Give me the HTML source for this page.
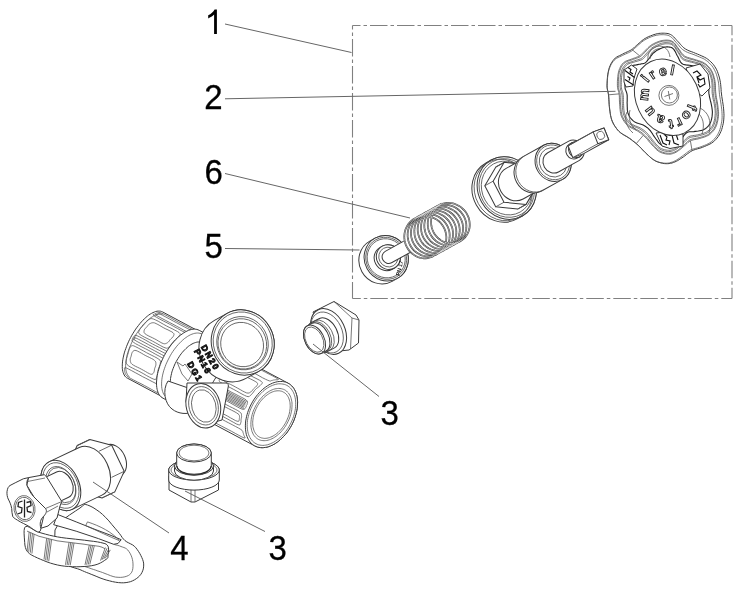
<!DOCTYPE html>
<html><head><meta charset="utf-8"><style>
html,body{margin:0;padding:0;background:#fff;width:747px;height:600px;overflow:hidden}
svg{display:block;will-change:transform;filter:blur(0.3px)}
.lbl{text-anchor:middle;font-family:"Liberation Sans",sans-serif;font-size:35.5px;fill:#000;stroke:#000;stroke-width:0.3}
.ld{stroke:#666;stroke-width:1;fill:none}
.o{fill:#fff;stroke:#3a3a3a;stroke-width:1;stroke-linejoin:round}
.t{fill:none;stroke:#555;stroke-width:0.8}
.wf{fill:#fff;stroke:none}
.lg{fill:none;stroke:#222;stroke-width:1.3}
.o2{fill:none;stroke:#222;stroke-width:1.1}
.rb{fill:#fff;stroke:#222;stroke-width:0.9}
.rb2{fill:none;stroke:#111;stroke-width:1.1}
.sp{fill:none;stroke:#333;stroke-width:1.7}
.sp2{fill:none;stroke:#fff;stroke-width:0.5}
.st{font-family:"Liberation Sans",sans-serif;font-weight:bold;font-size:5.5px;fill:#222}
.bt{font-family:"Liberation Sans",sans-serif;font-weight:bold;font-size:8.5px;letter-spacing:1.6px;fill:#333;stroke:#111;stroke-width:0.9}
.kt{font-family:"Liberation Sans",sans-serif;font-weight:bold;font-size:14px;fill:#fff;stroke:#222;stroke-width:0.9;text-anchor:middle;dominant-baseline:central}
</style></head><body>
<svg width="747" height="600" viewBox="0 0 747 600">
<path d="M352.5,25.5 H732" fill="none" stroke="#808080" stroke-width="1.1" stroke-dasharray="17.5 3 3.5 3" stroke-dashoffset="9.5"/>
<path d="M732,25.5 V298.5" fill="none" stroke="#808080" stroke-width="1.1" stroke-dasharray="17.5 3 3.5 3" stroke-dashoffset="7.8"/>
<path d="M732,298.5 H352.5" fill="none" stroke="#808080" stroke-width="1.1" stroke-dasharray="17.5 3 3.5 3" stroke-dashoffset="6.8"/>
<path d="M352.5,25.5 V298.5" fill="none" stroke="#808080" stroke-width="1.1" stroke-dasharray="17.5 3 3.5 3" stroke-dashoffset="13.4"/>
<g transform="translate(505,189) rotate(-29)">
<path class="o" d="M-4,-32 L2,-32 A28.8,32 0 0 1 2,32 L-4,32 A28.8,32 0 0 1 -4,-32 Z"/><ellipse class="o" cx="2" cy="0" rx="28.8" ry="32"/>
<ellipse class="t" cx="-2" cy="0" rx="28.4" ry="31.5"/>
<ellipse class="t" cx="2" cy="0" rx="27" ry="30"/>
<ellipse class="t" cx="2" cy="0" rx="24.8" ry="27.5"/>
<path class="o" d="M-16.8,11.1 L-16.1,-12.6 L2.7,-23.7 L12.2,-23.7 L30.3,-11.1 L29.6,12.6 L10.8,23.7 L1.3,23.7 Z"/><path class="t" d="M-16.1,-12.6 L-6.6,-12.6"/><path class="t" d="M2.7,-23.7 L12.2,-23.7"/><path class="t" d="M1.3,23.7 L10.8,23.7"/><path class="t" d="M-16.8,11.1 L-7.3,11.1"/><path class="o" d="M-6.6,-12.6 L12.2,-23.7 L30.3,-11.1 L29.6,12.6 L10.8,23.7 L-7.3,11.1 Z"/>
<path class="o" d="M11,-17.5 L31,-17.5 A15.8,17.5 0 0 1 31,17.5 L11,17.5 A15.8,17.5 0 0 1 11,-17.5 Z"/><ellipse class="o" cx="31" cy="0" rx="15.8" ry="17.5"/>
<path class="o" d="M31,-19.5 L55,-19.5 A17.6,19.5 0 0 1 55,19.5 L31,19.5 A17.6,19.5 0 0 1 31,-19.5 Z"/><ellipse class="o" cx="55" cy="0" rx="17.6" ry="19.5"/>
<path class="t" d="M33,-19.5 A17.6,19.5 0 0 0 33,19.5"/>
<ellipse class="t" cx="55" cy="0" rx="16" ry="17.8"/>
<ellipse class="t" cx="55" cy="0" rx="13.5" ry="15"/>
<path class="o" d="M55,-11 L79,-11 A9.9,11 0 0 1 79,11 L55,11 A9.9,11 0 0 1 55,-11 Z"/>
<path class="o" d="M78,-8 L81,-8 A7.2,8 0 0 1 81,8 L78,8 A7.2,8 0 0 1 78,-8 Z"/><ellipse class="o" cx="81" cy="0" rx="7.2" ry="8"/>
<path class="o" d="M74.5,5.4 L76.1,-7.2 L104.8,-7.2 L116.2,-5.4 L114.6,7.2 L85.9,7.2 Z"/><path class="t" d="M76.1,-7.2 L104.8,-7.2"/><path class="t" d="M74.5,5.4 L103.2,5.4"/><path class="o" d="M104.8,-7.2 L116.2,-5.4 L114.6,7.2 L103.2,5.4 Z"/>
<ellipse class="t" cx="109.7" cy="-0.5" rx="3.8" ry="4.2"/>
</g>
<g transform="translate(384,259.5) rotate(-29)">
<path class="o" d="M-3.5,-23 L2.5,-23 A21.8,23 0 0 1 2.5,23 L-3.5,23 A21.8,23 0 0 1 -3.5,-23 Z"/><ellipse class="o" cx="2.5" cy="0" rx="21.8" ry="23"/>
<ellipse class="t" cx="2.5" cy="0" rx="20.2" ry="21.3"/>
<ellipse class="t" cx="2.5" cy="0" rx="18.8" ry="19.8"/>
<path class="o" d="M2.5,-12.5 L5,-12.5 A11.9,12.5 0 0 1 5,12.5 L2.5,12.5 A11.9,12.5 0 0 1 2.5,-12.5 Z"/><ellipse class="o" cx="5" cy="0" rx="11.9" ry="12.5"/>
<ellipse class="t" cx="5" cy="0" rx="9.5" ry="10"/>
<text class="st" transform="translate(5.5,22) rotate(-46.5)">PN 17</text>
<path class="o" d="M5,-6.5 L50,-6.5 A6.2,6.5 0 0 1 50,6.5 L5,6.5 A6.2,6.5 0 0 1 5,-6.5 Z"/>
<path class="wf" d="M45,-21 L77.5,-21 A19.9,21 0 0 1 77.5,21 L45,21 A19.9,21 0 0 1 45,-21 Z"/>
<path class="sp" d="M45,21 L43,20.9 L41,20.5 L39,20 L37.1,19.2 L35.3,18.2 L33.7,17 L32.1,15.6 L30.7,14.1 L29.4,12.3 L28.4,10.5 L27.5,8.5 L26.8,6.5 L26.3,4.4 L26.1,2.2 L26,0 L26.2,-2.2 L26.6,-4.4 L27.2,-6.5 L28,-8.5 L29,-10.5 L30.2,-12.3 L31.6,-14.1 L33.1,-15.6 L34.8,-17 L36.6,-18.2 L38.5,-19.2 L40.6,-20 L42.6,-20.5 L44.8,-20.9 L46.9,-21 L49.1,-20.9 L51.2,-20.5 L53.3,-20 L55.3,-19.2 L57.2,-18.2 L59,-17 L60.7,-15.6 L62.2,-14.1 L63.6,-12.3 L64.8,-10.5 L65.8,-8.5 L66.7,-6.5 L67.3,-4.4 L67.6,-2.2 L67.8,0 L67.8,2.2 L67.5,4.4 L67,6.5 L66.3,8.5 L65.5,10.5 L64.4,12.3 L63.1,14.1 L61.7,15.6 L60.2,17 L58.5,18.2 L56.7,19.2 L54.8,20 L52.8,20.5 L50.8,20.9 L48.8,21 L46.8,20.9 L44.8,20.5 L42.8,20 L41,19.2 L39.2,18.2 L37.5,17 L35.9,15.6 L34.5,14.1 L33.3,12.3 L32.2,10.5 L31.3,8.5 L30.6,6.5 L30.1,4.4 L29.9,2.2 L29.8,0 L30,-2.2 L30.4,-4.4 L31,-6.5 L31.8,-8.5 L32.8,-10.5 L34,-12.3 L35.4,-14.1 L36.9,-15.6 L38.6,-17 L40.4,-18.2 L42.4,-19.2 L44.4,-20 L46.5,-20.5 L48.6,-20.9 L50.7,-21 L52.9,-20.9 L55,-20.5 L57.1,-20 L59.1,-19.2 L61,-18.2 L62.8,-17 L64.5,-15.6 L66.1,-14.1 L67.4,-12.3 L68.6,-10.5 L69.7,-8.5 L70.5,-6.5 L71.1,-4.4 L71.5,-2.2 L71.6,-0 L71.6,2.2 L71.3,4.4 L70.9,6.5 L70.2,8.5 L69.3,10.5 L68.2,12.3 L67,14.1 L65.6,15.6 L64,17 L62.3,18.2 L60.5,19.2 L58.6,20 L56.7,20.5 L54.7,20.9 L52.6,21 L50.6,20.9 L48.6,20.5 L46.7,20 L44.8,19.2 L43,18.2 L41.3,17 L39.7,15.6 L38.3,14.1 L37.1,12.3 L36,10.5 L35.1,8.5 L34.4,6.5 L34,4.4 L33.7,2.2 L33.7,-0 L33.8,-2.2 L34.2,-4.4 L34.8,-6.5 L35.6,-8.5 L36.6,-10.5 L37.8,-12.3 L39.2,-14.1 L40.8,-15.6 L42.5,-17 L44.3,-18.2 L46.2,-19.2 L48.2,-20 L50.3,-20.5 L52.4,-20.9 L54.6,-21 L56.7,-20.9 L58.8,-20.5 L60.9,-20 L62.9,-19.2 L64.9,-18.2 L66.7,-17 L68.4,-15.6 L69.9,-14.1 L71.3,-12.3 L72.5,-10.5 L73.5,-8.5 L74.3,-6.5 L74.9,-4.4 L75.3,-2.2 L75.5,-0 L75.4,2.2 L75.2,4.4 L74.7,6.5 L74,8.5 L73.1,10.5 L72,12.3 L70.8,14.1 L69.4,15.6 L67.8,17 L66.1,18.2 L64.3,19.2 L62.4,20 L60.5,20.5 L58.5,20.9 L56.5,21 L54.4,20.9 L52.5,20.5 L50.5,20 L48.6,19.2 L46.8,18.2 L45.1,17 L43.6,15.6 L42.2,14.1 L40.9,12.3 L39.8,10.5 L38.9,8.5 L38.3,6.5 L37.8,4.4 L37.5,2.2 L37.5,-0 L37.6,-2.2 L38,-4.4 L38.6,-6.5 L39.5,-8.5 L40.5,-10.5 L41.7,-12.3 L43,-14.1 L44.6,-15.6 L46.3,-17 L48.1,-18.2 L50,-19.2 L52,-20 L54.1,-20.5 L56.2,-20.9 L58.4,-21 L60.5,-20.9 L62.7,-20.5 L64.7,-20 L66.8,-19.2 L68.7,-18.2 L70.5,-17 L72.2,-15.6 L73.7,-14.1 L75.1,-12.3 L76.3,-10.5 L77.3,-8.5 L78.1,-6.5 L78.7,-4.4 L79.1,-2.2 L79.3,-0 L79.2,2.2 L79,4.4 L78.5,6.5 L77.8,8.5 L76.9,10.5 L75.9,12.3 L74.6,14.1 L73.2,15.6 L71.6,17 L70,18.2 L68.2,19.2 L66.3,20 L64.3,20.5 L62.3,20.9 L60.3,21 L58.3,20.9 L56.3,20.5 L54.3,20 L52.4,19.2 L50.6,18.2 L49,17 L47.4,15.6 L46,14.1 L44.7,12.3 L43.7,10.5 L42.8,8.5 L42.1,6.5 L41.6,4.4 L41.3,2.2 L41.3,-0 L41.5,-2.2 L41.9,-4.4 L42.5,-6.5 L43.3,-8.5 L44.3,-10.5 L45.5,-12.3 L46.9,-14.1 L48.4,-15.6 L50.1,-17 L51.9,-18.2 L53.8,-19.2 L55.8,-20 L57.9,-20.5 L60.1,-20.9 L62.2,-21 L64.4,-20.9 L66.5,-20.5 L68.6,-20 L70.6,-19.2 L72.5,-18.2 L74.3,-17 L76,-15.6 L77.5,-14.1 L78.9,-12.3 L80.1,-10.5 L81.1,-8.5 L81.9,-6.5 L82.5,-4.4 L82.9,-2.2 L83.1,0 L83.1,2.2 L82.8,4.4 L82.3,6.5 L81.6,8.5 L80.8,10.5 L79.7,12.3 L78.4,14.1 L77,15.6 L75.5,17 L73.8,18.2 L72,19.2 L70.1,20 L68.1,20.5 L66.1,20.9 L64.1,21 L62.1,20.9 L60.1,20.5 L58.1,20 L56.3,19.2 L54.5,18.2 L52.8,17 L51.2,15.6 L49.8,14.1 L48.6,12.3 L47.5,10.5 L46.6,8.5 L45.9,6.5 L45.4,4.4 L45.2,2.2 L45.1,-0 L45.3,-2.2 L45.7,-4.4 L46.3,-6.5 L47.1,-8.5 L48.1,-10.5 L49.3,-12.3 L50.7,-14.1 L52.2,-15.6 L53.9,-17 L55.7,-18.2 L57.7,-19.2 L59.7,-20 L61.8,-20.5 L63.9,-20.9 L66,-21 L68.2,-20.9 L70.3,-20.5 L72.4,-20 L74.4,-19.2 L76.3,-18.2 L78.1,-17 L79.8,-15.6 L81.4,-14.1 L82.7,-12.3 L83.9,-10.5 L85,-8.5 L85.8,-6.5 L86.4,-4.4 L86.8,-2.2 L86.9,-0 L86.9,2.2 L86.6,4.4 L86.2,6.5 L85.5,8.5 L84.6,10.5 L83.5,12.3 L82.3,14.1 L80.8,15.6 L79.3,17 L77.6,18.2 L75.8,19.2 L73.9,20 L72,20.5 L70,20.9 L67.9,21 L65.9,20.9 L63.9,20.5 L62,20 L60.1,19.2 L58.3,18.2 L56.6,17 L55,15.6 L53.6,14.1 L52.4,12.3 L51.3,10.5 L50.4,8.5 L49.7,6.5 L49.3,4.4 L49,2.2 L48.9,-0 L49.1,-2.2 L49.5,-4.4 L50.1,-6.5 L50.9,-8.5 L51.9,-10.5 L53.1,-12.3 L54.5,-14.1 L56.1,-15.6 L57.7,-17 L59.6,-18.2 L61.5,-19.2 L63.5,-20 L65.6,-20.5 L67.7,-20.9 L69.9,-21 L72,-20.9 L74.1,-20.5 L76.2,-20 L78.2,-19.2 L80.1,-18.2 L82,-17 L83.6,-15.6 L85.2,-14.1 L86.6,-12.3 L87.8,-10.5 L88.8,-8.5 L89.6,-6.5 L90.2,-4.4 L90.6,-2.2 L90.8,0 L90.7,2.2 L90.5,4.4 L90,6.5 L89.3,8.5 L88.4,10.5 L87.3,12.3 L86.1,14.1 L84.7,15.6 L83.1,17 L81.4,18.2 L79.6,19.2 L77.7,20 L75.8,20.5 L73.8,20.9 L71.8,21 L69.7,20.9 L67.7,20.5 L65.8,20 L63.9,19.2 L62.1,18.2 L60.4,17 L58.9,15.6 L57.4,14.1 L56.2,12.3 L55.1,10.5 L54.2,8.5 L53.6,6.5 L53.1,4.4 L52.8,2.2 L52.8,-0 L52.9,-2.2 L53.3,-4.4 L53.9,-6.5 L54.8,-8.5 L55.8,-10.5 L57,-12.3 L58.3,-14.1 L59.9,-15.6 L61.6,-17 L63.4,-18.2 L65.3,-19.2 L67.3,-20 L69.4,-20.5 L71.5,-20.9 L73.7,-21 L75.8,-20.9 L78,-20.5 L80,-20 L82,-19.2 L84,-18.2 L85.8,-17 L87.5,-15.6 L89,-14.1 L90.4,-12.3 L91.6,-10.5 L92.6,-8.5 L93.4,-6.5 L94,-4.4 L94.4,-2.2 L94.6,0 L94.5,2.2 L94.3,4.4 L93.8,6.5 L93.1,8.5 L92.2,10.5 L91.2,12.3 L89.9,14.1 L88.5,15.6 L86.9,17 L85.2,18.2 L83.4,19.2 L81.6,20 L79.6,20.5 L77.6,20.9 L75.6,21 L73.6,20.9 L71.6,20.5 L69.6,20 L67.7,19.2 L65.9,18.2 L64.2,17 L62.7,15.6 L61.3,14.1 L60,12.3 L58.9,10.5 L58.1,8.5 L57.4,6.5 L56.9,4.4 L56.6,2.2 L56.6,-0 L56.8,-2.2 L57.2,-4.4 L57.8,-6.5 L58.6,-8.5 L59.6,-10.5 L60.8,-12.3 L62.2,-14.1 L63.7,-15.6 L65.4,-17 L67.2,-18.2 L69.1,-19.2 L71.1,-20 L73.2,-20.5 L75.4,-20.9 L77.5,-21"/>
<path class="sp2" d="M45,21 L43,20.9 L41,20.5 L39,20 L37.1,19.2 L35.3,18.2 L33.7,17 L32.1,15.6 L30.7,14.1 L29.4,12.3 L28.4,10.5 L27.5,8.5 L26.8,6.5 L26.3,4.4 L26.1,2.2 L26,0 L26.2,-2.2 L26.6,-4.4 L27.2,-6.5 L28,-8.5 L29,-10.5 L30.2,-12.3 L31.6,-14.1 L33.1,-15.6 L34.8,-17 L36.6,-18.2 L38.5,-19.2 L40.6,-20 L42.6,-20.5 L44.8,-20.9 L46.9,-21 L49.1,-20.9 L51.2,-20.5 L53.3,-20 L55.3,-19.2 L57.2,-18.2 L59,-17 L60.7,-15.6 L62.2,-14.1 L63.6,-12.3 L64.8,-10.5 L65.8,-8.5 L66.7,-6.5 L67.3,-4.4 L67.6,-2.2 L67.8,0 L67.8,2.2 L67.5,4.4 L67,6.5 L66.3,8.5 L65.5,10.5 L64.4,12.3 L63.1,14.1 L61.7,15.6 L60.2,17 L58.5,18.2 L56.7,19.2 L54.8,20 L52.8,20.5 L50.8,20.9 L48.8,21 L46.8,20.9 L44.8,20.5 L42.8,20 L41,19.2 L39.2,18.2 L37.5,17 L35.9,15.6 L34.5,14.1 L33.3,12.3 L32.2,10.5 L31.3,8.5 L30.6,6.5 L30.1,4.4 L29.9,2.2 L29.8,0 L30,-2.2 L30.4,-4.4 L31,-6.5 L31.8,-8.5 L32.8,-10.5 L34,-12.3 L35.4,-14.1 L36.9,-15.6 L38.6,-17 L40.4,-18.2 L42.4,-19.2 L44.4,-20 L46.5,-20.5 L48.6,-20.9 L50.7,-21 L52.9,-20.9 L55,-20.5 L57.1,-20 L59.1,-19.2 L61,-18.2 L62.8,-17 L64.5,-15.6 L66.1,-14.1 L67.4,-12.3 L68.6,-10.5 L69.7,-8.5 L70.5,-6.5 L71.1,-4.4 L71.5,-2.2 L71.6,-0 L71.6,2.2 L71.3,4.4 L70.9,6.5 L70.2,8.5 L69.3,10.5 L68.2,12.3 L67,14.1 L65.6,15.6 L64,17 L62.3,18.2 L60.5,19.2 L58.6,20 L56.7,20.5 L54.7,20.9 L52.6,21 L50.6,20.9 L48.6,20.5 L46.7,20 L44.8,19.2 L43,18.2 L41.3,17 L39.7,15.6 L38.3,14.1 L37.1,12.3 L36,10.5 L35.1,8.5 L34.4,6.5 L34,4.4 L33.7,2.2 L33.7,-0 L33.8,-2.2 L34.2,-4.4 L34.8,-6.5 L35.6,-8.5 L36.6,-10.5 L37.8,-12.3 L39.2,-14.1 L40.8,-15.6 L42.5,-17 L44.3,-18.2 L46.2,-19.2 L48.2,-20 L50.3,-20.5 L52.4,-20.9 L54.6,-21 L56.7,-20.9 L58.8,-20.5 L60.9,-20 L62.9,-19.2 L64.9,-18.2 L66.7,-17 L68.4,-15.6 L69.9,-14.1 L71.3,-12.3 L72.5,-10.5 L73.5,-8.5 L74.3,-6.5 L74.9,-4.4 L75.3,-2.2 L75.5,-0 L75.4,2.2 L75.2,4.4 L74.7,6.5 L74,8.5 L73.1,10.5 L72,12.3 L70.8,14.1 L69.4,15.6 L67.8,17 L66.1,18.2 L64.3,19.2 L62.4,20 L60.5,20.5 L58.5,20.9 L56.5,21 L54.4,20.9 L52.5,20.5 L50.5,20 L48.6,19.2 L46.8,18.2 L45.1,17 L43.6,15.6 L42.2,14.1 L40.9,12.3 L39.8,10.5 L38.9,8.5 L38.3,6.5 L37.8,4.4 L37.5,2.2 L37.5,-0 L37.6,-2.2 L38,-4.4 L38.6,-6.5 L39.5,-8.5 L40.5,-10.5 L41.7,-12.3 L43,-14.1 L44.6,-15.6 L46.3,-17 L48.1,-18.2 L50,-19.2 L52,-20 L54.1,-20.5 L56.2,-20.9 L58.4,-21 L60.5,-20.9 L62.7,-20.5 L64.7,-20 L66.8,-19.2 L68.7,-18.2 L70.5,-17 L72.2,-15.6 L73.7,-14.1 L75.1,-12.3 L76.3,-10.5 L77.3,-8.5 L78.1,-6.5 L78.7,-4.4 L79.1,-2.2 L79.3,-0 L79.2,2.2 L79,4.4 L78.5,6.5 L77.8,8.5 L76.9,10.5 L75.9,12.3 L74.6,14.1 L73.2,15.6 L71.6,17 L70,18.2 L68.2,19.2 L66.3,20 L64.3,20.5 L62.3,20.9 L60.3,21 L58.3,20.9 L56.3,20.5 L54.3,20 L52.4,19.2 L50.6,18.2 L49,17 L47.4,15.6 L46,14.1 L44.7,12.3 L43.7,10.5 L42.8,8.5 L42.1,6.5 L41.6,4.4 L41.3,2.2 L41.3,-0 L41.5,-2.2 L41.9,-4.4 L42.5,-6.5 L43.3,-8.5 L44.3,-10.5 L45.5,-12.3 L46.9,-14.1 L48.4,-15.6 L50.1,-17 L51.9,-18.2 L53.8,-19.2 L55.8,-20 L57.9,-20.5 L60.1,-20.9 L62.2,-21 L64.4,-20.9 L66.5,-20.5 L68.6,-20 L70.6,-19.2 L72.5,-18.2 L74.3,-17 L76,-15.6 L77.5,-14.1 L78.9,-12.3 L80.1,-10.5 L81.1,-8.5 L81.9,-6.5 L82.5,-4.4 L82.9,-2.2 L83.1,0 L83.1,2.2 L82.8,4.4 L82.3,6.5 L81.6,8.5 L80.8,10.5 L79.7,12.3 L78.4,14.1 L77,15.6 L75.5,17 L73.8,18.2 L72,19.2 L70.1,20 L68.1,20.5 L66.1,20.9 L64.1,21 L62.1,20.9 L60.1,20.5 L58.1,20 L56.3,19.2 L54.5,18.2 L52.8,17 L51.2,15.6 L49.8,14.1 L48.6,12.3 L47.5,10.5 L46.6,8.5 L45.9,6.5 L45.4,4.4 L45.2,2.2 L45.1,-0 L45.3,-2.2 L45.7,-4.4 L46.3,-6.5 L47.1,-8.5 L48.1,-10.5 L49.3,-12.3 L50.7,-14.1 L52.2,-15.6 L53.9,-17 L55.7,-18.2 L57.7,-19.2 L59.7,-20 L61.8,-20.5 L63.9,-20.9 L66,-21 L68.2,-20.9 L70.3,-20.5 L72.4,-20 L74.4,-19.2 L76.3,-18.2 L78.1,-17 L79.8,-15.6 L81.4,-14.1 L82.7,-12.3 L83.9,-10.5 L85,-8.5 L85.8,-6.5 L86.4,-4.4 L86.8,-2.2 L86.9,-0 L86.9,2.2 L86.6,4.4 L86.2,6.5 L85.5,8.5 L84.6,10.5 L83.5,12.3 L82.3,14.1 L80.8,15.6 L79.3,17 L77.6,18.2 L75.8,19.2 L73.9,20 L72,20.5 L70,20.9 L67.9,21 L65.9,20.9 L63.9,20.5 L62,20 L60.1,19.2 L58.3,18.2 L56.6,17 L55,15.6 L53.6,14.1 L52.4,12.3 L51.3,10.5 L50.4,8.5 L49.7,6.5 L49.3,4.4 L49,2.2 L48.9,-0 L49.1,-2.2 L49.5,-4.4 L50.1,-6.5 L50.9,-8.5 L51.9,-10.5 L53.1,-12.3 L54.5,-14.1 L56.1,-15.6 L57.7,-17 L59.6,-18.2 L61.5,-19.2 L63.5,-20 L65.6,-20.5 L67.7,-20.9 L69.9,-21 L72,-20.9 L74.1,-20.5 L76.2,-20 L78.2,-19.2 L80.1,-18.2 L82,-17 L83.6,-15.6 L85.2,-14.1 L86.6,-12.3 L87.8,-10.5 L88.8,-8.5 L89.6,-6.5 L90.2,-4.4 L90.6,-2.2 L90.8,0 L90.7,2.2 L90.5,4.4 L90,6.5 L89.3,8.5 L88.4,10.5 L87.3,12.3 L86.1,14.1 L84.7,15.6 L83.1,17 L81.4,18.2 L79.6,19.2 L77.7,20 L75.8,20.5 L73.8,20.9 L71.8,21 L69.7,20.9 L67.7,20.5 L65.8,20 L63.9,19.2 L62.1,18.2 L60.4,17 L58.9,15.6 L57.4,14.1 L56.2,12.3 L55.1,10.5 L54.2,8.5 L53.6,6.5 L53.1,4.4 L52.8,2.2 L52.8,-0 L52.9,-2.2 L53.3,-4.4 L53.9,-6.5 L54.8,-8.5 L55.8,-10.5 L57,-12.3 L58.3,-14.1 L59.9,-15.6 L61.6,-17 L63.4,-18.2 L65.3,-19.2 L67.3,-20 L69.4,-20.5 L71.5,-20.9 L73.7,-21 L75.8,-20.9 L78,-20.5 L80,-20 L82,-19.2 L84,-18.2 L85.8,-17 L87.5,-15.6 L89,-14.1 L90.4,-12.3 L91.6,-10.5 L92.6,-8.5 L93.4,-6.5 L94,-4.4 L94.4,-2.2 L94.6,0 L94.5,2.2 L94.3,4.4 L93.8,6.5 L93.1,8.5 L92.2,10.5 L91.2,12.3 L89.9,14.1 L88.5,15.6 L86.9,17 L85.2,18.2 L83.4,19.2 L81.6,20 L79.6,20.5 L77.6,20.9 L75.6,21 L73.6,20.9 L71.6,20.5 L69.6,20 L67.7,19.2 L65.9,18.2 L64.2,17 L62.7,15.6 L61.3,14.1 L60,12.3 L58.9,10.5 L58.1,8.5 L57.4,6.5 L56.9,4.4 L56.6,2.2 L56.6,-0 L56.8,-2.2 L57.2,-4.4 L57.8,-6.5 L58.6,-8.5 L59.6,-10.5 L60.8,-12.3 L62.2,-14.1 L63.7,-15.6 L65.4,-17 L67.2,-18.2 L69.1,-19.2 L71.1,-20 L73.2,-20.5 L75.4,-20.9 L77.5,-21"/>
</g>
<path class="o" d="M607,85.4 L607.1,83.1 L607.2,80.5 L607.4,77.7 L607.7,74.8 L608.2,72.2 L608.7,69.8 L609.3,67.7 L610.1,65.7 L610.9,63.9 L611.9,62.2 L612.9,60.7 L614,59.3 L615.2,58.1 L616.6,57.1 L618.1,56.3 L619.6,55.6 L621.1,54.9 L622.6,54.1 L624.1,53.3 L625.6,52.6 L627.2,51.9 L628.7,51.2 L630.1,50.5 L631.3,49.8 L632.3,49.1 L633.2,48.4 L633.9,47.8 L634.6,47.1 L635.5,46.3 L636.5,45.4 L637.7,44.4 L639.1,43.2 L640.5,41.9 L642,40.6 L643.6,39.4 L645.2,38.4 L646.9,37.5 L648.6,36.6 L650.5,35.9 L652.3,35.2 L654,34.6 L655.7,34.1 L657.3,33.7 L658.8,33.4 L660.3,33.3 L661.7,33.2 L663.1,33.2 L664.4,33.2 L665.7,33.3 L666.9,33.4 L668,33.6 L669.1,33.9 L670.3,34.4 L671.4,35 L672.6,35.9 L673.7,36.9 L674.8,38.1 L676,39.4 L677.1,40.7 L678.3,41.9 L679.4,43.1 L680.4,44.3 L681.5,45.5 L682.6,46.7 L683.8,47.8 L685.3,48.9 L687.1,49.9 L689,50.8 L691.2,51.6 L693.4,52.4 L695.5,53.3 L697.5,54.1 L699.4,54.9 L701.2,55.7 L703,56.5 L704.7,57.3 L706.3,58.2 L707.9,59.3 L709.4,60.5 L710.8,61.8 L712.2,63.2 L713.5,64.7 L714.6,66.3 L715.7,68 L716.7,69.8 L717.5,71.7 L718.2,73.8 L718.9,75.9 L719.5,78 L720,80.2 L720.4,82.4 L720.7,84.6 L720.9,86.9 L721.1,89.3 L721.2,91.6 L721.5,94 L721.8,96.5 L722.2,99 L722.6,101.5 L723,104.1 L723.4,106.6 L723.6,108.9 L723.8,111.1 L723.9,113.2 L724,115.2 L723.9,117.1 L723.8,119.1 L723.6,121.1 L723.3,123.2 L722.8,125.3 L722.3,127.4 L721.7,129.5 L720.9,131.5 L720.1,133.3 L719.2,135 L718.2,136.6 L717,138.1 L715.8,139.5 L714.5,140.8 L713.1,142 L711.6,143.1 L709.9,144.1 L708.1,144.9 L706.3,145.7 L704.5,146.5 L702.7,147.2 L700.9,147.9 L699.1,148.4 L697.3,148.9 L695.6,149.4 L693.8,150 L692.2,150.7 L690.6,151.6 L689.2,152.6 L687.7,153.6 L686.3,154.7 L684.9,155.8 L683.5,156.8 L682,157.8 L680.6,158.7 L679.1,159.7 L677.7,160.6 L676.2,161.3 L674.8,162 L673.4,162.5 L672,163 L670.6,163.3 L669.1,163.6 L667.6,163.7 L666.1,163.7 L664.4,163.6 L662.7,163.3 L660.9,162.9 L659.1,162.4 L657.4,161.8 L655.7,161.1 L654.2,160.2 L652.7,159.2 L651.2,158 L649.8,156.8 L648.4,155.5 L647,154.2 L645.5,152.8 L644.1,151.4 L642.6,149.9 L641.2,148.3 L639.8,146.9 L638.3,145.5 L636.9,144.2 L635.5,143 L634.1,141.9 L632.6,140.8 L631.2,139.6 L629.6,138.5 L627.9,137.4 L626.1,136.3 L624.2,135.2 L622.4,134.1 L620.7,132.9 L619.1,131.5 L617.7,130 L616.4,128.3 L615.2,126.6 L614,124.8 L613.1,123 L612.2,121.1 L611.5,119.2 L611,117.3 L610.5,115.3 L610.2,113.2 L609.9,111.1 L609.6,109 L609.3,106.7 L609.1,104.3 L609,101.8 L608.8,99.4 L608.7,97.1 L608.5,95 L608.2,93.2 L607.9,91.7 L607.6,90.3 L607.3,88.9 L607.1,87.3 Z"/>
<path class="t" d="M607.1,86.1 L607.2,83.8 L607.3,81.2 L607.5,78.5 L607.8,75.7 L608.2,73.1 L608.7,70.7 L609.3,68.7 L610.1,66.7 L610.9,64.9 L611.8,63.3 L612.8,61.8 L614,60.4 L615.2,59.3 L616.6,58.3 L618,57.5 L619.6,56.8 L621.1,56.1 L622.6,55.4 L624,54.7 L625.6,54 L627.1,53.3 L628.6,52.7 L629.9,52 L631.2,51.3 L632.2,50.6 L633,50 L633.7,49.3 L634.4,48.6 L635.2,47.9 L636.2,47 L637.4,45.9 L638.7,44.7 L640.1,43.5 L641.6,42.2 L643.1,41 L644.7,40 L646.3,39.1 L648.1,38.2 L649.8,37.4 L651.6,36.7 L653.4,36.1 L655,35.6 L656.5,35.3 L658,35 L659.5,34.8 L660.9,34.7 L662.2,34.7 L663.6,34.7 L664.8,34.8 L666,34.9 L667.1,35.1 L668.2,35.4 L669.3,35.9 L670.4,36.5 L671.6,37.4 L672.7,38.5 L673.8,39.7 L674.9,41 L676.1,42.3 L677.2,43.5 L678.2,44.7 L679.2,45.9 L680.2,47.2 L681.3,48.4 L682.5,49.5 L684,50.5 L685.7,51.5 L687.6,52.4 L689.7,53.2 L691.9,53.9 L694,54.7 L696,55.5 L697.8,56.3 L699.6,57 L701.4,57.8 L703.1,58.5 L704.7,59.4 L706.3,60.5 L707.8,61.6 L709.2,62.9 L710.5,64.3 L711.8,65.7 L713,67.3 L714,69 L714.9,70.8 L715.8,72.7 L716.5,74.7 L717.1,76.7 L717.7,78.9 L718.2,81 L718.6,83.2 L718.8,85.4 L719,87.6 L719.1,89.9 L719.3,92.2 L719.5,94.6 L719.9,97 L720.3,99.5 L720.7,102 L721.1,104.5 L721.4,106.9 L721.7,109.2 L721.9,111.3 L722,113.4 L722.1,115.4 L722.1,117.3 L722,119.2 L721.8,121.2 L721.4,123.2 L721,125.3 L720.5,127.4 L719.9,129.5 L719.2,131.4 L718.4,133.2 L717.5,134.9 L716.4,136.5 L715.3,137.9 L714.1,139.3 L712.8,140.6 L711.4,141.7 L709.9,142.8 L708.2,143.7 L706.5,144.6 L704.7,145.3 L702.9,146 L701.1,146.7 L699.4,147.3 L697.6,147.8 L695.8,148.3 L694.1,148.8 L692.4,149.3 L690.7,150 L689.2,150.9 L687.8,151.9 L686.4,153 L685,154.1 L683.7,155.1 L682.3,156.1 L680.9,157.1 L679.5,158.1 L678,159.1 L676.6,160 L675.2,160.8 L673.8,161.4 L672.4,162 L671,162.4 L669.6,162.8 L668.2,163.1 L666.7,163.2 L665.2,163.2 L663.6,163.1 L661.9,162.8 L660.1,162.5 L658.3,162 L656.6,161.4 L655,160.6 L653.5,159.7 L652,158.7 L650.6,157.5 L649.2,156.3 L647.9,155 L646.5,153.7 L645.1,152.3 L643.6,150.8 L642.2,149.3 L640.8,147.8 L639.4,146.4 L638,145 L636.6,143.8 L635.2,142.6 L633.8,141.5 L632.4,140.4 L631,139.3 L629.5,138.2 L627.8,137.1 L626,136 L624.1,135 L622.3,133.9 L620.6,132.7 L619,131.4 L617.6,129.9 L616.3,128.3 L615.1,126.6 L614,124.9 L613,123.1 L612.2,121.2 L611.5,119.3 L611,117.4 L610.6,115.5 L610.3,113.5 L610,111.4 L609.7,109.3 L609.5,107.1 L609.3,104.7 L609.1,102.3 L609,99.9 L608.9,97.6 L608.7,95.5 L608.4,93.8 L608.1,92.3 L607.7,90.9 L607.4,89.5 L607.2,88 Z"/>
<path class="t" d="M617.4,85.7 L617.4,83.7 L617.4,81.4 L617.6,79 L617.8,76.5 L618.1,74.1 L618.5,72.1 L619,70.2 L619.7,68.5 L620.4,66.9 L621.2,65.4 L622.2,64.1 L623.2,63 L624.4,62 L625.7,61.2 L627.1,60.7 L628.5,60.1 L630,59.7 L631.4,59.1 L632.7,58.6 L634.2,58.1 L635.6,57.6 L636.9,57.1 L638.2,56.6 L639.2,56.1 L640.1,55.5 L640.8,54.9 L641.4,54.3 L642,53.7 L642.7,53 L643.5,52.2 L644.5,51.2 L645.6,50.1 L646.8,48.9 L648,47.7 L649.3,46.5 L650.6,45.5 L652,44.6 L653.5,43.7 L655,43 L656.6,42.3 L658.1,41.7 L659.5,41.2 L660.9,40.8 L662.2,40.5 L663.5,40.3 L664.7,40.2 L665.9,40.1 L667.1,40.1 L668.2,40.2 L669.2,40.3 L670.2,40.5 L671.2,40.8 L672.2,41.3 L673.1,41.9 L674.1,42.8 L675.1,43.9 L676.1,45.2 L677,46.5 L677.9,47.8 L678.9,49.1 L679.8,50.2 L680.6,51.5 L681.4,52.7 L682.3,53.8 L683.3,54.9 L684.5,55.9 L685.9,56.7 L687.6,57.4 L689.5,57.9 L691.4,58.5 L693.3,59 L695,59.6 L696.7,60.1 L698.4,60.6 L700,61.2 L701.6,61.7 L703.2,62.4 L704.6,63.3 L706,64.2 L707.3,65.3 L708.5,66.5 L709.6,67.7 L710.7,69.1 L711.6,70.6 L712.4,72.2 L713.1,73.9 L713.7,75.7 L714.2,77.5 L714.7,79.4 L715,81.3 L715.3,83.2 L715.4,85.2 L715.5,87.2 L715.5,89.2 L715.6,91.2 L715.8,93.2 L716.1,95.3 L716.4,97.5 L716.8,99.7 L717.3,101.9 L717.6,104 L717.9,106 L718.1,107.9 L718.3,109.7 L718.5,111.5 L718.6,113.2 L718.5,114.9 L718.4,116.7 L718.2,118.5 L717.8,120.4 L717.4,122.2 L716.9,124.1 L716.3,125.8 L715.6,127.4 L714.8,128.9 L713.9,130.2 L712.8,131.5 L711.7,132.7 L710.5,133.8 L709.3,134.8 L707.8,135.6 L706.3,136.3 L704.6,137 L703,137.5 L701.3,138 L699.7,138.5 L698.1,138.9 L696.5,139.3 L694.9,139.5 L693.3,139.9 L691.8,140.3 L690.4,140.8 L689.1,141.6 L687.9,142.5 L686.8,143.6 L685.7,144.7 L684.5,145.7 L683.4,146.7 L682.2,147.7 L681,148.7 L679.8,149.7 L678.5,150.6 L677.3,151.5 L676.1,152.2 L674.9,152.8 L673.6,153.3 L672.4,153.7 L671.2,154 L669.9,154.2 L668.5,154.2 L667.1,154.1 L665.6,153.9 L664,153.5 L662.4,153.1 L660.9,152.5 L659.4,151.8 L658.1,150.9 L656.8,149.9 L655.6,148.8 L654.5,147.5 L653.3,146.3 L652.1,145 L650.9,143.7 L649.7,142.3 L648.5,140.9 L647.4,139.4 L646.2,138.1 L645,136.9 L643.8,135.8 L642.6,134.7 L641.4,133.8 L640.2,132.8 L638.9,131.9 L637.5,131 L636,130.2 L634.4,129.4 L632.6,128.6 L630.9,127.7 L629.3,126.8 L627.8,125.7 L626.5,124.4 L625.3,123 L624.2,121.5 L623.2,120 L622.4,118.4 L621.6,116.8 L621,115.1 L620.6,113.4 L620.3,111.6 L620.1,109.8 L619.9,108 L619.8,106.1 L619.6,104.2 L619.5,102.1 L619.4,99.9 L619.4,97.9 L619.3,95.9 L619.1,94.1 L618.8,92.5 L618.5,91.2 L618.1,90 L617.7,88.8 L617.5,87.4 Z"/>
<path class="t" d="M618.3,85.9 L618.3,83.9 L618.4,81.6 L618.5,79.2 L618.7,76.8 L618.9,74.4 L619.3,72.4 L619.9,70.6 L620.5,68.9 L621.2,67.3 L622,65.9 L623,64.6 L624,63.4 L625.1,62.5 L626.5,61.8 L627.9,61.2 L629.3,60.7 L630.8,60.3 L632.1,59.8 L633.5,59.3 L634.9,58.8 L636.3,58.3 L637.6,57.9 L638.9,57.4 L639.9,56.9 L640.8,56.3 L641.5,55.8 L642.1,55.2 L642.6,54.5 L643.3,53.8 L644.1,53 L645.1,52.1 L646.1,50.9 L647.3,49.7 L648.5,48.5 L649.7,47.3 L651,46.3 L652.4,45.4 L653.8,44.6 L655.3,43.8 L656.8,43.1 L658.3,42.5 L659.7,42 L661.1,41.6 L662.4,41.3 L663.6,41.1 L664.8,41 L666,40.9 L667.2,41 L668.2,41 L669.3,41.1 L670.3,41.3 L671.2,41.6 L672.2,42.1 L673.2,42.7 L674.1,43.6 L675.1,44.7 L676,46 L676.9,47.4 L677.9,48.7 L678.8,49.9 L679.6,51.1 L680.4,52.4 L681.2,53.6 L682.1,54.8 L683,55.8 L684.2,56.8 L685.6,57.6 L687.3,58.2 L689.1,58.8 L691,59.3 L692.8,59.7 L694.6,60.3 L696.3,60.8 L697.9,61.3 L699.5,61.8 L701.1,62.3 L702.6,63 L704.1,63.8 L705.4,64.7 L706.7,65.8 L707.9,66.9 L709.1,68.2 L710.1,69.5 L711,70.9 L711.8,72.5 L712.5,74.2 L713.1,75.9 L713.6,77.8 L714,79.6 L714.3,81.5 L714.6,83.4 L714.7,85.3 L714.7,87.3 L714.7,89.3 L714.8,91.2 L715,93.2 L715.2,95.3 L715.6,97.4 L716,99.6 L716.5,101.7 L716.8,103.8 L717.1,105.8 L717.4,107.7 L717.6,109.4 L717.7,111.2 L717.8,112.9 L717.8,114.6 L717.7,116.3 L717.5,118.1 L717.1,119.9 L716.7,121.8 L716.2,123.6 L715.6,125.3 L714.9,126.9 L714.1,128.3 L713.2,129.7 L712.2,130.9 L711.1,132.1 L710,133.1 L708.7,134.1 L707.3,134.9 L705.7,135.6 L704.1,136.2 L702.4,136.7 L700.8,137.2 L699.2,137.6 L697.6,138 L696,138.3 L694.4,138.6 L692.9,138.9 L691.4,139.3 L690,139.8 L688.8,140.6 L687.6,141.5 L686.5,142.6 L685.4,143.6 L684.3,144.7 L683.2,145.7 L682,146.7 L680.8,147.7 L679.7,148.7 L678.5,149.7 L677.3,150.6 L676.1,151.3 L674.8,151.9 L673.7,152.4 L672.5,152.8 L671.2,153.1 L670,153.3 L668.6,153.3 L667.2,153.2 L665.7,153 L664.1,152.7 L662.6,152.2 L661.1,151.6 L659.7,150.9 L658.4,150.1 L657.1,149 L655.9,147.9 L654.8,146.7 L653.6,145.4 L652.5,144.1 L651.3,142.8 L650.1,141.4 L649,140 L647.9,138.6 L646.7,137.2 L645.6,136 L644.4,134.9 L643.2,133.9 L642.1,133 L640.9,132.1 L639.6,131.2 L638.2,130.3 L636.7,129.5 L635.1,128.7 L633.3,127.9 L631.6,127.1 L630,126.2 L628.6,125.2 L627.3,123.9 L626.1,122.6 L625,121.1 L624,119.6 L623.2,118 L622.4,116.4 L621.9,114.8 L621.5,113.1 L621.2,111.3 L621,109.6 L620.8,107.8 L620.7,105.9 L620.5,104 L620.4,101.9 L620.4,99.8 L620.3,97.8 L620.2,95.8 L620.1,94.1 L619.8,92.6 L619.4,91.3 L619,90.1 L618.7,88.9 L618.4,87.5 Z"/>
<path class="t" d="M620.1,86.2 L620.1,84.3 L620.1,82.1 L620.2,79.7 L620.3,77.4 L620.6,75.1 L621,73.1 L621.4,71.3 L622,69.7 L622.8,68.1 L623.6,66.8 L624.5,65.5 L625.5,64.4 L626.6,63.5 L627.9,62.9 L629.3,62.4 L630.8,62 L632.2,61.6 L633.6,61.1 L634.9,60.7 L636.3,60.2 L637.7,59.8 L639,59.4 L640.2,59 L641.2,58.5 L642.1,58 L642.7,57.4 L643.3,56.9 L643.8,56.3 L644.4,55.6 L645.2,54.8 L646.1,53.8 L647.1,52.7 L648.2,51.5 L649.3,50.3 L650.5,49.1 L651.7,48.1 L653,47.2 L654.4,46.4 L655.9,45.6 L657.3,44.9 L658.8,44.3 L660.1,43.7 L661.4,43.3 L662.6,43 L663.9,42.8 L665,42.7 L666.2,42.6 L667.3,42.6 L668.3,42.7 L669.3,42.8 L670.3,43 L671.2,43.3 L672.2,43.7 L673.1,44.4 L674,45.3 L674.9,46.5 L675.8,47.8 L676.7,49.1 L677.6,50.5 L678.4,51.8 L679.3,53 L680,54.2 L680.7,55.4 L681.5,56.6 L682.4,57.7 L683.5,58.6 L684.9,59.4 L686.5,59.9 L688.2,60.4 L690.1,60.9 L691.9,61.3 L693.6,61.7 L695.2,62.2 L696.9,62.6 L698.5,63 L700,63.5 L701.5,64.1 L702.9,64.9 L704.3,65.8 L705.5,66.7 L706.7,67.8 L707.8,69 L708.9,70.3 L709.7,71.7 L710.5,73.2 L711.1,74.9 L711.7,76.6 L712.1,78.4 L712.5,80.2 L712.8,82 L713,83.8 L713.1,85.7 L713.1,87.6 L713.1,89.5 L713.1,91.4 L713.3,93.3 L713.5,95.3 L713.9,97.3 L714.3,99.4 L714.8,101.5 L715.2,103.5 L715.5,105.4 L715.7,107.2 L716,108.9 L716.1,110.6 L716.2,112.3 L716.3,113.9 L716.2,115.6 L715.9,117.4 L715.7,119.1 L715.3,120.9 L714.8,122.7 L714.2,124.3 L713.6,125.9 L712.8,127.3 L711.9,128.6 L710.9,129.8 L709.9,130.9 L708.7,131.9 L707.4,132.8 L706,133.6 L704.5,134.2 L702.9,134.7 L701.2,135.2 L699.6,135.6 L698.1,136 L696.5,136.3 L695,136.6 L693.4,136.8 L691.9,137 L690.5,137.4 L689.2,137.9 L688,138.6 L686.9,139.6 L685.8,140.6 L684.8,141.7 L683.8,142.8 L682.7,143.8 L681.6,144.8 L680.5,145.8 L679.3,146.8 L678.2,147.8 L677.1,148.7 L675.9,149.4 L674.7,150.1 L673.6,150.6 L672.4,151 L671.2,151.3 L670,151.5 L668.7,151.6 L667.3,151.5 L665.9,151.3 L664.4,151 L662.8,150.5 L661.4,149.9 L660,149.2 L658.8,148.4 L657.6,147.3 L656.4,146.2 L655.3,144.9 L654.2,143.7 L653.1,142.4 L652,141.1 L650.9,139.7 L649.8,138.3 L648.8,136.9 L647.7,135.5 L646.6,134.4 L645.5,133.3 L644.4,132.3 L643.2,131.4 L642.1,130.6 L640.8,129.7 L639.5,128.9 L638.1,128.1 L636.4,127.4 L634.7,126.8 L633,126 L631.4,125.2 L630,124.2 L628.7,123 L627.5,121.7 L626.5,120.3 L625.5,118.8 L624.7,117.3 L624,115.7 L623.4,114.1 L623.1,112.5 L622.8,110.8 L622.6,109.1 L622.5,107.3 L622.4,105.6 L622.3,103.7 L622.2,101.7 L622.2,99.7 L622.2,97.7 L622.1,95.8 L621.9,94.1 L621.6,92.7 L621.2,91.4 L620.8,90.2 L620.5,89.1 L620.2,87.8 Z"/>
<path class="t" d="M621.3,86.4 L621.3,84.5 L621.3,82.4 L621.4,80.1 L621.5,77.7 L621.8,75.5 L622.1,73.6 L622.6,71.8 L623.2,70.2 L623.9,68.7 L624.7,67.4 L625.5,66.2 L626.5,65.1 L627.7,64.3 L629,63.6 L630.4,63.1 L631.8,62.8 L633.2,62.4 L634.6,62 L635.9,61.5 L637.3,61.2 L638.6,60.8 L639.9,60.4 L641.1,60 L642.1,59.5 L642.9,59 L643.5,58.5 L644.1,57.9 L644.6,57.3 L645.2,56.6 L645.9,55.9 L646.8,54.9 L647.8,53.8 L648.8,52.6 L649.9,51.4 L651,50.3 L652.2,49.2 L653.5,48.4 L654.8,47.5 L656.3,46.7 L657.7,46 L659.1,45.4 L660.4,44.9 L661.7,44.5 L662.9,44.2 L664.1,44 L665.2,43.8 L666.3,43.8 L667.4,43.8 L668.4,43.8 L669.4,43.9 L670.3,44.1 L671.3,44.4 L672.2,44.9 L673.1,45.5 L674,46.5 L674.9,47.6 L675.7,48.9 L676.6,50.3 L677.4,51.6 L678.3,52.9 L679.1,54.1 L679.8,55.4 L680.5,56.6 L681.2,57.7 L682.1,58.8 L683.2,59.7 L684.5,60.4 L686,61 L687.7,61.4 L689.5,61.8 L691.3,62.2 L693,62.6 L694.6,63.1 L696.2,63.5 L697.8,63.8 L699.3,64.3 L700.8,64.9 L702.2,65.6 L703.5,66.4 L704.8,67.4 L705.9,68.5 L707,69.6 L708,70.9 L708.9,72.2 L709.6,73.7 L710.3,75.3 L710.8,77 L711.2,78.7 L711.6,80.5 L711.8,82.3 L712,84.1 L712.1,85.9 L712.1,87.8 L712.1,89.6 L712.1,91.5 L712.2,93.4 L712.5,95.3 L712.8,97.3 L713.2,99.3 L713.7,101.3 L714.1,103.3 L714.4,105.1 L714.7,106.9 L714.9,108.6 L715.1,110.2 L715.2,111.9 L715.2,113.5 L715.1,115.1 L714.9,116.8 L714.7,118.6 L714.3,120.3 L713.9,122 L713.3,123.7 L712.7,125.2 L711.9,126.5 L711,127.8 L710.1,129 L709,130.1 L707.9,131 L706.6,131.9 L705.2,132.6 L703.7,133.2 L702.1,133.7 L700.5,134.2 L698.9,134.5 L697.4,134.9 L695.9,135.2 L694.3,135.4 L692.8,135.6 L691.3,135.8 L690,136.2 L688.7,136.7 L687.5,137.4 L686.5,138.3 L685.4,139.3 L684.4,140.4 L683.4,141.5 L682.4,142.5 L681.3,143.5 L680.3,144.5 L679.2,145.6 L678.1,146.5 L677,147.4 L675.8,148.2 L674.7,148.8 L673.6,149.3 L672.4,149.8 L671.3,150.1 L670.1,150.3 L668.8,150.3 L667.4,150.2 L666,150 L664.5,149.7 L663.1,149.3 L661.6,148.7 L660.3,148 L659.1,147.2 L657.9,146.1 L656.8,145 L655.7,143.8 L654.7,142.5 L653.6,141.2 L652.5,139.9 L651.5,138.5 L650.4,137.1 L649.4,135.8 L648.3,134.5 L647.3,133.3 L646.2,132.3 L645.1,131.3 L644,130.4 L642.9,129.6 L641.7,128.8 L640.4,128 L638.9,127.3 L637.3,126.6 L635.6,126 L634,125.3 L632.4,124.4 L631,123.5 L629.7,122.3 L628.6,121.1 L627.5,119.7 L626.6,118.2 L625.8,116.8 L625.1,115.2 L624.5,113.7 L624.2,112.1 L624,110.4 L623.8,108.8 L623.7,107 L623.6,105.3 L623.5,103.5 L623.4,101.5 L623.4,99.5 L623.4,97.6 L623.3,95.8 L623.1,94.1 L622.9,92.7 L622.5,91.5 L622.1,90.4 L621.7,89.2 L621.4,87.9 Z"/>
<path class="o2" d="M625,86.9 L624.9,85.1 L624.9,83.1 L624.9,81 L624.9,78.8 L625.1,76.7 L625.4,74.8 L625.8,73.2 L626.4,71.7 L627,70.3 L627.8,69 L628.6,67.9 L629.6,66.9 L630.8,66.2 L632.1,65.7 L633.5,65.3 L634.9,65.1 L636.4,64.9 L637.7,64.6 L639,64.3 L640.4,64.1 L641.7,63.8 L642.9,63.6 L644.1,63.3 L645,62.9 L645.7,62.4 L646.3,61.9 L646.8,61.4 L647.2,60.8 L647.7,60.2 L648.4,59.4 L649.1,58.5 L650,57.4 L650.8,56.2 L651.8,54.9 L652.8,53.7 L653.8,52.7 L655,51.8 L656.2,50.9 L657.5,50.1 L658.8,49.4 L660.1,48.7 L661.3,48.2 L662.5,47.7 L663.6,47.4 L664.7,47.1 L665.8,47 L666.8,46.9 L667.8,46.9 L668.8,47 L669.7,47.1 L670.6,47.2 L671.4,47.5 L672.3,48 L673.1,48.7 L674,49.7 L674.8,50.9 L675.6,52.3 L676.3,53.8 L677,55.2 L677.8,56.6 L678.4,57.8 L679,59.1 L679.6,60.4 L680.3,61.6 L681,62.7 L681.9,63.5 L683.1,64.2 L684.5,64.6 L686.1,64.9 L687.8,65.1 L689.5,65.3 L691.1,65.6 L692.6,65.9 L694.2,66.1 L695.8,66.3 L697.3,66.6 L698.7,67 L700.1,67.6 L701.4,68.4 L702.6,69.2 L703.8,70.2 L704.8,71.2 L705.8,72.4 L706.6,73.7 L707.3,75 L707.8,76.6 L708.2,78.1 L708.6,79.8 L708.8,81.5 L709.1,83.1 L709.2,84.8 L709.1,86.5 L709,88.2 L708.9,90 L708.8,91.7 L708.9,93.4 L709.2,95.2 L709.5,97 L710,98.9 L710.4,100.7 L710.9,102.5 L711.3,104.3 L711.6,105.9 L711.9,107.5 L712.1,109.1 L712.3,110.6 L712.4,112.1 L712.3,113.7 L712.2,115.3 L712,116.9 L711.7,118.6 L711.3,120.2 L710.8,121.7 L710.2,123.1 L709.5,124.4 L708.7,125.6 L707.7,126.7 L706.7,127.7 L705.6,128.5 L704.4,129.3 L703,129.9 L701.5,130.4 L699.9,130.7 L698.3,131 L696.8,131.2 L695.3,131.4 L693.8,131.6 L692.3,131.7 L690.9,131.7 L689.5,131.8 L688.2,132 L687,132.5 L686,133.2 L685.1,134.1 L684.2,135.1 L683.4,136.2 L682.5,137.3 L681.6,138.4 L680.7,139.5 L679.7,140.6 L678.7,141.7 L677.7,142.8 L676.7,143.7 L675.7,144.5 L674.6,145.2 L673.6,145.8 L672.5,146.3 L671.5,146.7 L670.3,146.9 L669.1,147 L667.9,146.9 L666.5,146.7 L665.1,146.4 L663.7,146 L662.4,145.4 L661.2,144.7 L660,143.8 L658.9,142.8 L657.9,141.6 L657,140.3 L656,139 L655.1,137.7 L654.1,136.4 L653.2,135 L652.3,133.5 L651.4,132.2 L650.5,130.9 L649.5,129.8 L648.6,128.8 L647.6,127.9 L646.6,127.2 L645.6,126.4 L644.4,125.7 L643.2,125.1 L641.8,124.5 L640.2,124 L638.6,123.5 L636.9,122.9 L635.3,122.3 L633.9,121.4 L632.7,120.4 L631.5,119.2 L630.5,118 L629.6,116.7 L628.9,115.3 L628.2,113.8 L627.8,112.4 L627.5,110.9 L627.3,109.3 L627.3,107.7 L627.2,106.1 L627.2,104.5 L627.1,102.8 L627.2,101 L627.2,99.1 L627.2,97.3 L627.2,95.6 L627,94.1 L626.7,92.8 L626.3,91.7 L625.9,90.6 L625.4,89.5 L625.1,88.3 Z"/>
<path class="t" d="M692.1,150.7 L690.4,140.9"/>
<path class="t" d="M636.2,143.7 L643.3,135.3"/>
<path class="t" d="M608.5,94.8 L619.1,93.9"/>
<path class="t" d="M631.8,49.4 L639.6,55.8"/>
<path class="t" d="M648,60 C647,52 652,47 659,46 C665,46 669,50 670,57"/>
<path class="t" d="M650,59 C650,53 654,49 660,48.5"/>
<path class="t" d="M700,108 C708,112 712,120 709,133 M697,112 C703,117 705,124 702,134"/>
<path class="t" d="M627,112 C624,118 626,127 633,133 M630,110 C628,118 630,125 636,130"/>
<path class="rb" d="M624,70 L631.5,65 L637,69 L635,75 L633.5,80 L633,86 L626,87 L624,82 Z"/>
<path class="rb2" d="M625,70.5 L634.5,77.5 M625,79.5 L633.5,85 M628,67.5 L631,69.5 L630,72 L633,74 M627.5,76.5 L630,78 L629,80.5"/>
<path class="rb" d="M686,68 L700,64 L708,74 L710,88 L702,96 L693,90 Z"/>
<path class="rb2" d="M693,73 L697,71 L701,75 L697,77 L700,80 L704,78 L705,84 L700,87 L698,84 M697,77 L699,83"/>
<path class="rb" d="M656,133 L665,132 L683,134 L683,146 L670,148.5 L662,146 Z"/>
<path class="rb2" d="M660,135 L663,143 L667,145 M664,134 L667,137 L666,140 L670,141 L669,145 M672,135 L674,143 L679,145 M676,134 L678,140"/>
<ellipse class="o" cx="667.5" cy="97.3" rx="39.5" ry="31.5" transform="rotate(65 667.5 97.3)"/>
<circle class="t" cx="668.9" cy="95.4" r="10"/>
<circle class="t" cx="669.4" cy="95" r="8"/>
<path class="t" d="M664.5,96.5 L673,93.5 M668.3,91 L669.8,99.5"/>
<text class="kt" x="643.5" y="94.6" transform="rotate(-83.6 643.5 94.6)">m</text>
<text class="kt" x="644.9" y="78.4" transform="rotate(-50.1 644.9 78.4)">i</text>
<text class="kt" x="652" y="74.1" transform="rotate(-33.7 652 74.1)">r</text>
<text class="kt" x="662.6" y="70.6" transform="rotate(-10.4 662.6 70.6)">e</text>
<text class="kt" x="672.5" y="69.9" transform="rotate(10.3 672.5 69.9)">l</text>
<text class="kt" x="692.3" y="107.4" transform="rotate(112.2 692.3 107.4)">f</text>
<text class="kt" x="687.3" y="115.9" transform="rotate(133.2 687.3 115.9)">o</text>
<text class="kt" x="679.6" y="123" transform="rotate(154.8 679.6 123)">r</text>
<text class="kt" x="671" y="124.4" transform="rotate(172.6 671 124.4)">t</text>
<text class="kt" x="660.4" y="120.1" transform="rotate(197.3 660.4 120.1)">a</text>
<text class="kt" x="649.1" y="111.6" transform="rotate(232.1 649.1 111.6)">u</text>
<path class="o" d="M80,508 L82.5,506 L83.9,504.8 L84.8,504.4 L85.8,504.5 L87.5,505 L90,506 L93,507.5 L96.1,509.5 L99.4,511.8 L102.5,514.4 L105.6,517.4 L108.9,520.9 L112,524.7 L115,528.2 L117.5,531.2 L119.5,533.6 L121,535.7 L122.2,537.5 L123.5,539.1 L125,540.6 L126.8,541.9 L128.7,542.9 L130.7,543.9 L132.6,544.9 L134.3,546.2 L135.9,547.8 L137.3,549.7 L138.7,551.7 L139.9,553.7 L140.9,555.6 L141.8,557.5 L142.6,559.4 L143.2,561.2 L143.6,563.1 L143.7,565 L143.6,566.9 L143.3,568.9 L142.7,570.8 L141.9,572.6 L140.9,574.3 L139.6,575.9 L138,577.4 L136.3,578.7 L134.4,579.9 L132.4,580.9 L130.4,581.7 L128.3,582.2 L126.1,582.6 L123.7,582.8 L121.2,582.8 L118.4,582.6 L115.5,582.2 L112.4,581.6 L109.3,580.8 L106.2,580 L103.1,579 L100,577.9 L96.9,576.6 L94,575.4 L91.2,574.3 L88.8,573.3 L86.6,572.5 L84.5,571.6 L82.4,570.7 L80,569.6 L77.3,568.7 L74.5,567.9 L71.5,566.9 L68.7,565.1 L66,562 L63,557 L59.7,550.5 L56.7,543.3 L54.8,536.2 L55,530 L58,524.7 L63.2,519.6 L69.5,515 L75.5,511 Z"/>
<path class="t" d="M113.7,544.3 L114.7,544.6 L116.1,545 L117.8,545.4 L119.5,545.9 L121,546.5 L122.4,547 L123.9,547.5 L125.3,548.1 L126.6,548.9 L127.8,550 L128.9,551.5 L130,553.2 L131,555.2 L131.8,557.2 L132.4,559.3 L132.8,561.5 L133,563.9 L133,566.4 L132.8,568.7 L132.4,570.6 L131.7,572.2 L130.8,573.5 L129.7,574.6 L128.4,575.5 L126.8,576.2 L124.9,576.8 L122.8,577.2 L120.5,577.4 L118.1,577.3 L115.6,577.1 L113.1,576.5 L110.4,575.6 L107.7,574.5 L105,573.5 L102.5,572.5 L100.2,571.7 L97.9,571 L95.8,570.2 L93.6,569.5 L91.2,568.7 L88.5,567.7 L85.4,566.7 L82.4,565.6 L79.8,564.7 L78,564"/>
<path class="o" d="M57.5,514.4 L76.2,521.9 L95,529.4 L110,535 L121.2,539.7 L118,543.5 L113.7,544.3 L98.7,538.7 L76.2,531.2 L53.7,524.7 Z"/>
<path class="t" d="M87.5,521.9 C100,526 112,532 119.3,540.6 C110,537 98,531 85.6,525.6 Z"/>
<path class="o" d="M25.6,526.5 L27.4,526.4 L29.7,527.4 L32.5,529.1 L35.5,530.8 L38.7,532.2 L42,533.2 L45.6,534.2 L49.4,535.2 L53.4,536.1 L57.5,536.9 L61.8,537.6 L66.3,538.2 L71,538.7 L75.6,539.2 L80,539.7 L84.5,540.2 L89,540.8 L93.4,541.3 L97.4,541.9 L100.6,542.5 L103,543.1 L104.9,543.6 L106.2,544.2 L107.2,545.1 L108,546.2 L108.5,547.9 L108.6,550 L108.5,552.3 L108.2,554.4 L108,556 L107.9,557 L107.9,557.7 L107.7,558.1 L107.2,558.6 L106.2,559.3 L104.7,560.3 L102.8,561.6 L100.5,562.9 L97.9,564.1 L95,565 L91.7,565.7 L88,566.2 L84.1,566.5 L80.1,566.7 L76.2,566.8 L72.4,566.7 L68.6,566.5 L64.8,566.2 L61.1,565.7 L57.5,565 L53.9,564.1 L50.4,563.1 L47,561.9 L43.7,560.6 L40.6,559.3 L37.6,558 L34.6,556.6 L31.8,555.2 L29.4,553.6 L27.5,551.8 L26.2,549.7 L25.4,547.5 L24.9,545 L24.7,542.5 L24.5,540 L24.3,537.1 L24.1,533.8 L24.1,530.6 L24.5,528 Z"/>
<path class="t" d="M27,531.1 L30,532.4 L33,533.7 L36,535 L39,536.3 L42,537 L45,537.8 L48,538.5 L51,539.3 L54,540 L57,540.8 L60,541.2 L63,541.6 L66,542 L69,542.3 L72,542.7 L75,543.1 L78,543.5 L81,543.8 L84,544.2 L87,544.7 L90,545.1 L93,545.5 L96,545.9 L99,546.3 L102,547.2 L105,548.7"/>
<path class="t" d="M29.2,531.9 L27.1,550.9"/>
<path class="t" d="M30.8,532.6 L28.7,551.8"/>
<path class="t" d="M32.5,533.3 L30.3,552.7"/>
<path class="t" d="M34.1,534 L31.9,553.6"/>
<path class="t" d="M46.7,538.2 L44,559.6"/>
<path class="t" d="M48.3,538.6 L45.6,560.2"/>
<path class="t" d="M50,539 L47.1,560.7"/>
<path class="t" d="M51.6,539.4 L48.7,561.3"/>
<path class="t" d="M69,542.5 L65.5,564.8"/>
<path class="t" d="M70.7,542.7 L67.1,565"/>
<path class="t" d="M72.3,542.9 L68.6,565.2"/>
<path class="t" d="M74,543.1 L70.2,565.3"/>
<path class="t" d="M89.3,545 L85,564.9"/>
<path class="t" d="M91,545.2 L86.6,564.7"/>
<path class="t" d="M92.6,545.5 L88.2,564.6"/>
<path class="t" d="M94.3,545.7 L89.8,564.4"/>
<path class="t" d="M105.4,547.5 L100.5,560.6"/>
<path class="t" d="M107,548.3 L102,559.8"/>
<path class="t" d="M108.7,549.1 L103.6,559"/>
<path class="t" d="M110.3,549.9 L105.2,558.3"/>
<g transform="translate(60.8,485.5) rotate(154.5)">
<path class="o" d="M-59,-16.5 L-43,-16.5 A11.4,16.5 0 0 1 -43,16.5 L-59,16.5 A11.4,16.5 0 0 1 -59,-16.5 Z"/>
<path class="o" d="M-63.3,-14.5 L-46,-29 L-32,-29 L-14.7,-14.5 L-14.7,14.5 L-32,29 L-46,29 L-63.3,14.5 Z"/><path class="t" d="M-63.3,-14.5 L-49.3,-14.5"/><path class="t" d="M-46,-29 L-32,-29"/><path class="t" d="M-46,29 L-32,29"/><path class="t" d="M-63.3,14.5 L-49.3,14.5"/>
<path class="o" d="M-33,-26.4 L0,-26.4 A18.2,26.4 0 0 1 0,26.4 L-33,26.4 A18.2,26.4 0 0 1 -33,-26.4 Z"/><ellipse class="o" cx="0" cy="0" rx="18.2" ry="26.4"/>
<ellipse class="t" cx="0" cy="0" rx="16.6" ry="24"/>
<ellipse class="t" cx="0" cy="0" rx="13.8" ry="20"/>
<ellipse class="t" cx="-1" cy="0" rx="12.8" ry="18.5"/>
<path class="o" d="M-2,-14 L14,-14 A9.7,14 0 0 1 14,14 L-2,14 A9.7,14 0 0 1 -2,-14 Z"/>
</g>
<path class="o" d="M28.6,477.6 L44.3,474.7 L46.7,477 L61.8,501.5 L60,506 L57,518 L48,526 L40.8,528.3 L45.5,508.5 L33.8,496.8 L26.8,485.2 Z"/>
<path class="t" d="M27.5,481.5 L45,478 M45.5,508.5 L61.8,501.5 M47,512 L58,506"/>
<path class="o" d="M7,491.6 C7.5,488 8.5,486.5 10,485.5 L15.2,482.8 L23.3,478.8 L28.6,477.6 C27,480 26.5,483 26.8,485.2 C29,490 31,494 33.8,496.8 C38,501 42,505 45.5,508.5 C47.5,511 46,514 43.2,516.7 C40.5,519.5 39.5,523 40.8,528.3 C41,531 39.5,532.5 37.3,531.8 C34,530 32,528.5 30.3,527.2 C26,524.5 21,522.5 17.5,520.2 C14.5,518.5 13,517 12.8,516.7 C12,514 11.8,511 11.7,508.5 C11,504.5 9.5,501.5 8.2,499 C7.2,497 6.8,494 7,491.6 Z"/>
<ellipse class="t" cx="24.5" cy="508.5" rx="13" ry="10.5" transform="rotate(80 24.5 508.5)"/>
<ellipse class="t" cx="24.5" cy="508.5" rx="11.3" ry="9" transform="rotate(80 24.5 508.5)"/>
<path class="lg" d="M24.5,499.5 L24.5,517.5 M22.5,501 L18.5,502.5 L18,506.5 L22,508 L21.5,512.5 L17.5,514 M26.5,502.5 L30.5,501.5 L31,505.5 L27,507.5 L27.5,511.5 L31.5,512.5"/>
<path class="o" d="M122.3,366.7 L122.3,364.9 L122.4,363.1 L122.6,361.1 L122.9,359.2 L123.3,357.1 L123.8,355 L124.3,352.9 L125,350.7 L125.8,348.5 L126.6,346.3 L127.5,344.1 L128.5,341.8 L129.5,339.6 L130.7,337.4 L131.8,335.3 L133.1,333.2 L134.4,331.1 L135.7,329.1 L137.1,327.2 L138.5,325.4 L139.9,323.6 L141.4,321.9 L142.8,320.3 L144.3,318.9 L145.8,317.5 L147.3,316.2 L148.7,315.1 L150.2,314.1 L151.6,313.3 L153,312.6 L154.4,312 L155.7,311.5 L157,311.2 L158.2,311.1 L159.4,311.1 L160.5,311.2 L161.5,311.5 L162.5,311.9 L201.3,332.6 L202.4,333.2 L203.3,334 L204.2,334.9 L205,335.9 L205.7,337.1 L206.3,338.4 L206.8,339.8 L207.2,341.3 L207.5,343 L207.7,344.7 L207.8,346.5 L207.8,348.4 L207.7,350.4 L207.4,352.4 L207.1,354.5 L206.7,356.6 L206.2,358.8 L205.6,361 L204.9,363.3 L204.1,365.5 L203.2,367.7 L202.3,370 L201.2,372.2 L200.1,374.4 L198.9,376.5 L197.7,378.6 L196.4,380.7 L195,382.6 L193.6,384.6 L192.1,386.4 L190.6,388.1 L189.1,389.8 L187.6,391.3 L186,392.7 L184.4,394 L182.9,395.2 L181.3,396.3 L179.7,397.2 L178.2,398 L176.7,398.7 L175.2,399.2 L173.7,399.6 L172.3,399.8 L171,399.9 L169.7,399.8 L168.4,399.6 L167.2,399.3 L166.1,398.8 L127.3,378.1 L126.4,377.6 L125.6,376.9 L124.8,376 L124.2,375 L123.7,373.9 L123.2,372.7 L122.8,371.4 L122.5,369.9 L122.3,368.3 Z"/>
<path class="t" d="M129.3,376.8 L128.6,376.1 L128,375.3 L127.4,374.4 L126.9,373.4 L126.5,372.3 L126.1,371.1 L125.9,369.8 L125.7,368.4 L125.6,366.9 L125.6,365.4 L125.7,363.7 L125.8,362 L126.1,360.3 L126.4,358.5 L126.8,356.6 L127.2,354.7 L127.8,352.8 L128.4,350.8 L129.1,348.8 L129.8,346.8 L130.7,344.9 L131.6,342.9 L132.5,340.9 L133.5,339 L134.6,337 L135.7,335.1 L136.8,333.3 L138,331.5 L139.2,329.8 L140.5,328.1 L141.8,326.5 L143,324.9 L144.4,323.5 L145.7,322.1 L147,320.9 L148.3,319.7 L149.7,318.6 L151,317.6 L152.3,316.8 L153.6,316 L154.8,315.4 L156,314.9 L157.2,314.5 L158.4,314.2 L159.5,314.1 L160.6,314 L161.6,314.1 L162.5,314.3"/>
<path class="t" d="M161.7,313.2 L164.3,314.4 L167.5,316.1 L171.1,318 L174.7,320.1 L178.2,322 L181.8,323.8 L185.7,325.8 L189.5,327.8 L192.6,329.5 L194.8,330.8 L195.6,331.5 L195.4,331.9 L194.7,332 L193.8,332.1 L193.2,332.2 L193,332.4 L192.7,332.4 L192.4,332.5 L192.2,332.6 L191.9,332.6 L191.7,332.7 L191.5,332.8 L191.3,332.9 L191.1,333 L190.7,333.1 L190.2,333.3 L189.9,333.6 L189.3,333.9 L188.3,333.8 L186.7,333.3 L184.3,332.1 L181.1,330.5 L177.6,328.5 L173.9,326.5 L170.5,324.6 L167,322.8 L163.2,320.9 L159.6,319 L156.5,317.3 L154.3,316 L153.3,315.2 L153.2,314.6 L153.6,314.4 L154.3,314.2 L154.6,313.9 L154.8,313.7 L155,313.6 L155.3,313.6 L155.5,313.5 L155.8,313.4 L156,313.3 L156.1,313.2 L156.3,313.1 L156.5,313 L157,312.9 L157.5,312.8 L158.1,312.6 L158.8,312.4 L160,312.6 Z"/>
<path class="t" d="M160.3,314.1 L162.6,315.3 L165.8,317 L169.4,318.9 L173.2,321 L176.7,322.8 L180.2,324.7 L184.1,326.7 L187.7,328.6 L190.9,330.3 L193.1,331.6 L194.1,332.2 L194.1,332.5 L193.6,332.5 L192.9,332.4 L192.5,332.4 L192.4,332.5 L192.3,332.5 L192.2,332.6 L192,332.6 L191.9,332.6 L191.8,332.7 L191.7,332.7 L191.6,332.8 L191.5,332.8 L191.3,332.9 L191.2,333 L191.2,333.3 L191.1,333.5 L190.6,333.5 L189.2,332.9 L186.9,331.7 L183.7,330.1 L180.1,328.1 L176.4,326.1 L172.9,324.2 L169.4,322.4 L165.6,320.4 L162,318.5 L158.9,316.8 L156.7,315.6 L155.7,314.9 L155.6,314.6 L156,314.6 L156.6,314.6 L156.9,314.6 L157,314.5 L157.1,314.4 L157.2,314.4 L157.4,314.4 L157.5,314.3 L157.6,314.3 L157.7,314.2 L157.7,314.2 L157.9,314.1 L158.1,314.1 L158.2,313.9 L158.2,313.7 L158.3,313.5 L158.9,313.5 Z"/>
<path class="t" d="M153.6,319.1 L155.7,320 L158.2,321.2 L160.9,322.8 L163.7,324.4 L166.4,325.9 L169.1,327.3 L172.1,328.7 L174.9,330.2 L177.4,331.5 L179.1,332.6 L180,333.5 L180.3,334.1 L180.1,334.7 L179.6,335.3 L179.1,336 L178.3,336.9 L177.3,337.9 L176.1,338.9 L174.9,340 L173.8,341.1 L172.8,342.3 L171.9,343.5 L171,344.7 L170.2,345.8 L169.3,346.7 L168.6,347.3 L168,347.8 L167.4,348.1 L166.5,348.2 L165.1,347.8 L163.1,347 L160.7,345.7 L158,344.2 L155.2,342.6 L152.6,341.2 L149.9,339.8 L147,338.4 L144.2,337 L141.8,335.7 L140,334.5 L139,333.6 L138.6,332.8 L138.6,332.2 L138.9,331.5 L139.2,330.7 L139.7,329.6 L140.5,328.5 L141.5,327.3 L142.5,326.2 L143.5,325 L144.5,323.9 L145.5,322.7 L146.5,321.6 L147.6,320.6 L148.6,319.8 L149.5,319.2 L150.2,318.8 L151.1,318.6 L152.1,318.7 Z"/>
<path class="t" d="M154.5,322.9 L156.1,323.6 L157.9,324.5 L159.9,325.6 L161.9,326.8 L163.8,327.9 L165.8,328.9 L168,329.9 L170.1,331 L171.9,331.9 L173.1,332.8 L173.8,333.6 L174,334.4 L173.9,335 L173.6,335.7 L173.3,336.3 L172.9,337 L172.4,337.6 L171.7,338.1 L171,338.7 L170.4,339.3 L169.9,340 L169.4,340.7 L169,341.3 L168.4,342 L167.8,342.5 L167.1,342.9 L166.4,343.3 L165.6,343.6 L164.7,343.8 L163.5,343.6 L161.9,343 L160.1,342 L158.2,340.9 L156.2,339.7 L154.3,338.7 L152.3,337.7 L150.2,336.7 L148.1,335.7 L146.4,334.7 L145.1,333.8 L144.3,332.9 L144,332.2 L144,331.4 L144.1,330.7 L144.3,330 L144.6,329.3 L145.1,328.7 L145.7,328.1 L146.3,327.4 L146.9,326.8 L147.4,326.2 L147.9,325.5 L148.4,324.8 L149,324.2 L149.7,323.8 L150.5,323.4 L151.3,323 L152.2,322.8 L153.2,322.7 Z"/>
<path class="t" d="M137,335.7 L139.4,336.8 L142.4,338.4 L145.7,340.2 L149.2,342.2 L152.5,344 L155.8,345.7 L159.4,347.5 L162.8,349.2 L165.8,350.8 L167.9,352.2 L169.1,353.2 L169.4,353.9 L169.2,354.5 L168.9,355 L168.8,355.4 L168.7,355.8 L168.6,356 L168.5,356.2 L168.3,356.3 L168.1,356.5 L168.1,356.7 L168,357 L168,357.2 L167.8,357.4 L167.6,357.6 L167.3,358 L167.1,358.5 L166.6,359 L165.8,359.1 L164.4,358.8 L162,357.7 L159.1,356.1 L155.7,354.3 L152.2,352.3 L148.9,350.5 L145.6,348.8 L142,347 L138.6,345.3 L135.6,343.7 L133.5,342.3 L132.3,341.3 L132,340.5 L132.1,339.9 L132.4,339.4 L132.5,339 L132.5,338.6 L132.6,338.4 L132.8,338.2 L133,338.1 L133.1,337.9 L133.2,337.7 L133.2,337.4 L133.3,337.2 L133.4,337 L133.7,336.8 L134,336.4 L134.3,335.9 L134.7,335.5 L135.6,335.4 Z"/>
<path class="t" d="M136.1,338.1 L138.3,339.2 L141.4,340.8 L145,342.7 L148.6,344.7 L152.1,346.6 L155.5,348.4 L159.2,350.3 L162.8,352.2 L165.9,353.8 L168.1,355.1 L169.1,355.8 L169.3,356.1 L169,356.1 L168.6,356.1 L168.3,356.2 L168.3,356.3 L168.3,356.4 L168.3,356.4 L168.2,356.5 L168.1,356.5 L168.1,356.6 L168.1,356.7 L168.1,356.7 L168,356.8 L168,356.9 L168,357.1 L168.3,357.5 L168.4,357.8 L168.1,357.8 L166.9,357.3 L164.6,356.1 L161.5,354.5 L158,352.6 L154.3,350.6 L150.9,348.8 L147.4,346.9 L143.7,345 L140.1,343.1 L137.1,341.5 L134.9,340.2 L133.8,339.5 L133.6,339.2 L133.9,339.2 L134.3,339.2 L134.6,339.1 L134.6,339 L134.6,338.9 L134.7,338.9 L134.7,338.8 L134.8,338.8 L134.8,338.7 L134.8,338.6 L134.8,338.6 L134.9,338.5 L135,338.4 L134.9,338.2 L134.6,337.8 L134.5,337.6 L134.9,337.6 Z"/>
<path class="t" d="M133.9,345.9 L135.8,346.8 L138.2,348 L141,349.6 L143.8,351.1 L146.4,352.6 L149.1,354 L151.9,355.4 L154.7,356.8 L157.1,358.1 L158.9,359.3 L160,360.2 L160.4,361 L160.5,361.7 L160.4,362.4 L160.3,363.4 L160.1,364.6 L159.6,365.9 L159.1,367.3 L158.5,368.7 L158.1,370.1 L157.8,371.6 L157.5,373.2 L157.3,374.8 L157,376.2 L156.6,377.3 L156.3,378.2 L156.1,378.9 L155.7,379.3 L155,379.5 L153.8,379.2 L151.9,378.4 L149.4,377.1 L146.6,375.6 L143.8,373.9 L141.1,372.4 L138.4,371 L135.5,369.6 L132.7,368.2 L130.2,366.9 L128.4,365.7 L127.2,364.7 L126.6,363.8 L126.3,363 L126.2,362.2 L126.2,361.1 L126.3,359.9 L126.6,358.5 L127,357 L127.4,355.5 L127.9,354.1 L128.3,352.6 L128.7,351.1 L129.1,349.7 L129.6,348.4 L130.2,347.4 L130.7,346.6 L131.1,346 L131.7,345.7 L132.5,345.6 Z"/>
<path class="t" d="M136,350.5 L137.5,351.1 L139.3,352 L141.3,353.1 L143.3,354.3 L145.2,355.4 L147.2,356.4 L149.3,357.4 L151.3,358.4 L153.1,359.3 L154.4,360.3 L155.3,361.2 L155.7,362 L155.9,362.8 L155.9,363.6 L155.9,364.5 L155.8,365.3 L155.6,366 L155.3,366.8 L155,367.6 L154.7,368.4 L154.5,369.2 L154.4,370.1 L154.3,370.9 L154.1,371.7 L153.8,372.4 L153.4,373 L153,373.6 L152.5,374 L151.8,374.3 L150.7,374.2 L149.3,373.6 L147.5,372.7 L145.5,371.5 L143.4,370.3 L141.4,369.2 L139.5,368.2 L137.4,367.2 L135.3,366.2 L133.5,365.2 L132.1,364.3 L131.2,363.4 L130.7,362.4 L130.4,361.6 L130.3,360.7 L130.2,359.8 L130.2,359 L130.4,358.2 L130.7,357.4 L131,356.6 L131.2,355.9 L131.4,355 L131.6,354.2 L131.8,353.4 L132.1,352.6 L132.5,352 L132.9,351.4 L133.5,350.9 L134.1,350.5 L134.9,350.4 Z"/>
<path class="t" d="M126.4,368 L128.7,369.1 L131.7,370.7 L135.2,372.6 L138.9,374.6 L142.3,376.5 L145.7,378.2 L149.3,380.1 L152.8,381.9 L155.9,383.5 L158.2,384.9 L159.6,386 L160.2,386.9 L160.4,387.6 L160.4,388.2 L160.5,388.8 L160.7,389.2 L160.7,389.5 L160.7,389.8 L160.7,390 L160.8,390.2 L160.8,390.5 L160.9,390.8 L161.1,391.1 L161.1,391.4 L161.2,391.8 L161.4,392.4 L161.8,393.2 L162,394 L161.8,394.4 L160.7,394.2 L158.4,393.1 L155.3,391.5 L151.7,389.5 L147.9,387.4 L144.4,385.5 L141,383.7 L137.3,381.9 L133.8,380.1 L130.6,378.4 L128.2,376.9 L126.7,375.7 L125.8,374.7 L125.4,373.9 L125.2,373.2 L125,372.5 L124.7,372.1 L124.6,371.7 L124.6,371.5 L124.7,371.3 L124.7,371.1 L124.6,370.8 L124.5,370.5 L124.4,370.2 L124.4,370 L124.5,369.7 L124.5,369.2 L124.4,368.5 L124.5,367.9 L125.1,367.7 Z"/>
<path class="o" d="M156.5,384 L156.5,382 L156.7,380 L156.9,377.9 L157.2,375.8 L157.6,373.6 L158.2,371.4 L158.8,369.1 L159.5,366.8 L160.3,364.5 L161.2,362.2 L162.2,359.9 L163.3,357.6 L164.4,355.4 L165.7,353.2 L166.9,351 L168.3,348.9 L169.7,346.9 L171.1,344.9 L172.6,343.1 L174.2,341.3 L175.7,339.6 L177.3,338 L178.9,336.5 L180.5,335.2 L182.1,334 L183.7,332.9 L185.3,331.9 L186.9,331.1 L188.4,330.4 L189.9,329.9 L191.4,329.5 L192.9,329.2 L194.2,329.1 L195.6,329.2 L196.8,329.4 L198,329.8 L199.2,330.3 L205.3,333.6 L206.4,334.2 L207.4,335 L208.3,336 L209.1,337.1 L209.9,338.3 L210.5,339.6 L211,341.1 L211.4,342.6 L211.8,344.3 L212,346.1 L212.1,347.9 L212.1,349.9 L212,351.9 L211.8,354 L211.5,356.2 L211,358.4 L210.5,360.6 L209.9,362.9 L209.2,365.2 L208.4,367.5 L207.5,369.8 L206.5,372.1 L205.4,374.3 L204.3,376.6 L203.1,378.8 L201.8,380.9 L200.4,383 L199,385.1 L197.6,387 L196.1,388.9 L194.5,390.7 L193,392.4 L191.4,393.9 L189.8,395.4 L188.1,396.8 L186.5,398 L184.9,399.1 L183.3,400 L181.7,400.8 L180.1,401.5 L178.6,402 L177.1,402.4 L175.6,402.6 L174.2,402.7 L172.9,402.6 L171.6,402.4 L170.3,402.1 L169.2,401.5 L163,398.2 L162,397.6 L161,396.8 L160.1,395.9 L159.3,394.8 L158.6,393.6 L158,392.3 L157.5,390.8 L157.1,389.3 L156.8,387.6 L156.6,385.8 Z"/>
<path class="t" d="M167.9,398.6 L166.9,398 L166,397.2 L165.1,396.3 L164.4,395.3 L163.7,394.2 L163.1,392.9 L162.6,391.5 L162.2,390 L161.9,388.4 L161.7,386.8 L161.6,385 L161.6,383.1 L161.7,381.2 L161.9,379.2 L162.2,377.2 L162.6,375.1 L163.1,373 L163.7,370.8 L164.4,368.7 L165.2,366.5 L166,364.3 L167,362.1 L168,360 L169.1,357.9 L170.2,355.8 L171.4,353.7 L172.7,351.7 L174,349.8 L175.4,348 L176.8,346.2 L178.3,344.5 L179.8,342.9 L181.3,341.4 L182.8,340 L184.3,338.7 L185.9,337.6 L187.4,336.5 L188.9,335.6 L190.4,334.8 L191.9,334.2 L193.4,333.7 L194.8,333.3 L196.2,333.1 L197.5,333 L198.8,333.1 L200,333.3 L201.1,333.7 L202.2,334.1"/>
<path class="o" d="M170.3,381.8 L170.4,380.2 L170.5,378.6 L170.8,377 L171.1,375.4 L171.5,373.7 L171.9,371.9 L172.5,370.2 L173.1,368.5 L173.8,366.8 L174.5,365 L175.3,363.3 L176.2,361.6 L177.1,360 L178.1,358.4 L179.1,356.8 L180.1,355.2 L181.2,353.8 L182.3,352.4 L183.5,351 L184.7,349.8 L185.9,348.6 L187.1,347.5 L188.3,346.4 L189.6,345.5 L190.8,344.7 L192,344 L193.2,343.4 L194.4,342.9 L195.6,342.5 L196.7,342.2 L197.8,342 L198.9,342 L199.9,342 L200.9,342.2 L201.8,342.5 L202.7,342.9 L257.4,372 L258.4,372.6 L259.3,373.3 L260.1,374.1 L260.9,374.9 L261.6,375.9 L262.2,377 L262.7,378.2 L263.2,379.5 L263.6,380.8 L263.8,382.2 L264.1,383.7 L264.2,385.2 L264.2,386.8 L264.1,388.4 L264,390.1 L263.8,391.8 L263.4,393.5 L263,395.3 L262.6,397 L262,398.8 L261.4,400.5 L260.6,402.3 L259.9,404 L259,405.7 L258.1,407.3 L257.1,408.9 L256,410.5 L254.9,412 L253.8,413.5 L252.6,414.9 L251.4,416.2 L250.1,417.4 L248.9,418.5 L247.6,419.6 L246.2,420.6 L244.9,421.4 L243.6,422.2 L242.2,422.8 L240.9,423.4 L239.6,423.8 L238.3,424.1 L237,424.3 L235.8,424.4 L234.6,424.4 L233.4,424.3 L232.3,424 L231.2,423.7 L230.2,423.2 L175.4,394.1 L174.6,393.6 L173.9,393 L173.2,392.3 L172.6,391.4 L172,390.5 L171.5,389.5 L171.1,388.4 L170.8,387.2 L170.6,386 L170.4,384.6 L170.3,383.2 Z"/>
<path class="o" d="M206,406.3 L206.1,404.3 L206.3,402.2 L206.6,400.2 L207,398.1 L207.5,395.9 L208.1,393.8 L208.8,391.7 L209.6,389.5 L210.5,387.4 L211.5,385.3 L212.5,383.2 L213.6,381.2 L214.8,379.2 L216.1,377.3 L217.4,375.4 L218.8,373.7 L220.3,372 L221.7,370.4 L223.3,368.8 L224.8,367.4 L226.4,366.1 L228,364.9 L229.6,363.9 L231.2,362.9 L232.8,362.1 L234.4,361.4 L235.9,360.9 L237.5,360.4 L239,360.2 L240.5,360 L241.9,360 L243.3,360.2 L244.7,360.5 L245.9,360.9 L247.2,361.4 L288.1,383.2 L289.4,384 L290.6,384.9 L291.7,385.9 L292.8,387.1 L293.7,388.3 L294.5,389.7 L295.3,391.2 L295.9,392.8 L296.5,394.4 L296.9,396.2 L297.2,398.1 L297.4,400 L297.6,401.9 L297.5,404 L297.4,406 L297.2,408.1 L296.9,410.3 L296.4,412.4 L295.8,414.6 L295.2,416.8 L294.4,418.9 L293.6,421.1 L292.6,423.2 L291.6,425.2 L290.4,427.3 L289.2,429.2 L287.9,431.2 L286.6,433 L285.1,434.8 L283.6,436.4 L282.1,438 L280.5,439.5 L278.9,440.9 L277.2,442.1 L275.6,443.3 L273.9,444.3 L272.2,445.2 L270.5,445.9 L268.8,446.6 L267.1,447.1 L265.4,447.4 L263.8,447.6 L262.1,447.7 L260.6,447.6 L259,447.4 L257.6,447 L256.1,446.5 L254.8,445.9 L213.8,424.1 L212.7,423.4 L211.6,422.6 L210.6,421.7 L209.7,420.6 L208.9,419.4 L208.2,418.1 L207.6,416.7 L207.1,415.1 L206.6,413.5 L206.3,411.8 L206.1,410.1 L206,408.2 Z"/><path class="o" d="M291.6,425.3 L290.4,427.3 L289.2,429.3 L287.9,431.2 L286.6,433 L285.1,434.8 L283.6,436.4 L282.1,438 L280.5,439.5 L278.9,440.9 L277.3,442.1 L275.6,443.3 L273.9,444.3 L272.2,445.2 L270.5,445.9 L268.8,446.6 L267.1,447.1 L265.4,447.4 L263.7,447.6 L262.1,447.7 L260.6,447.6 L259,447.4 L257.6,447 L256.1,446.5 L254.8,445.9 L253.5,445.1 L252.3,444.2 L251.2,443.2 L250.2,442.1 L249.2,440.8 L248.4,439.4 L247.6,438 L247,436.4 L246.4,434.7 L246,432.9 L245.7,431.1 L245.5,429.2 L245.4,427.2 L245.4,425.2 L245.5,423.1 L245.7,421 L246.1,418.8 L246.5,416.7 L247.1,414.5 L247.7,412.4 L248.5,410.2 L249.4,408.1 L250.3,406 L251.4,403.9 L252.5,401.9 L253.7,399.9 L255,398 L256.4,396.1 L257.8,394.4 L259.3,392.7 L260.8,391.1 L262.4,389.6 L264,388.3 L265.7,387 L267.3,385.9 L269,384.8 L270.7,384 L272.4,383.2 L274.1,382.6 L275.8,382.1 L277.5,381.7 L279.2,381.5 L280.8,381.5 L282.4,381.5 L283.9,381.7 L285.4,382.1 L286.8,382.6 L288.1,383.2 L289.4,384 L290.6,384.9 L291.7,385.9 L292.8,387.1 L293.7,388.3 L294.5,389.7 L295.3,391.2 L295.9,392.8 L296.5,394.4 L296.9,396.2 L297.2,398 L297.4,400 L297.6,401.9 L297.5,404 L297.4,406 L297.2,408.2 L296.8,410.3 L296.4,412.4 L295.8,414.6 L295.2,416.8 L294.4,418.9 L293.6,421.1 L292.6,423.2 L291.6,425.3 Z"/>
<path class="t" d="M290.1,424.5 L289.1,426.4 L288,428.2 L286.8,430 L285.5,431.7 L284.2,433.3 L282.8,434.9 L281.4,436.4 L279.9,437.7 L278.4,439 L276.8,440.2 L275.3,441.2 L273.7,442.2 L272.1,443 L270.5,443.7 L269,444.3 L267.4,444.8 L265.8,445.1 L264.3,445.3 L262.8,445.4 L261.3,445.3 L259.9,445.1 L258.5,444.8 L257.2,444.3 L256,443.7 L254.8,443 L253.7,442.2 L252.6,441.2 L251.7,440.1 L250.8,439 L250,437.7 L249.3,436.3 L248.7,434.8 L248.2,433.3 L247.8,431.6 L247.5,429.9 L247.3,428.1 L247.2,426.3 L247.2,424.4 L247.3,422.5 L247.5,420.5 L247.8,418.5 L248.3,416.5 L248.8,414.5 L249.4,412.5 L250.1,410.5 L250.9,408.5 L251.8,406.6 L252.8,404.6 L253.8,402.8 L255,400.9 L256.2,399.1 L257.4,397.4 L258.7,395.8 L260.1,394.2 L261.6,392.8 L263,391.4 L264.5,390.1 L266.1,388.9 L267.6,387.9 L269.2,386.9 L270.8,386.1 L272.4,385.4 L274,384.8 L275.5,384.4 L277.1,384 L278.6,383.8 L280.1,383.8 L281.6,383.9 L283,384.1 L284.4,384.4 L285.7,384.8 L286.9,385.4 L288.1,386.1 L289.3,387 L290.3,387.9 L291.3,389 L292.1,390.2 L292.9,391.5 L293.6,392.8 L294.2,394.3 L294.7,395.9 L295.1,397.5 L295.4,399.2 L295.6,401 L295.7,402.8 L295.7,404.7 L295.6,406.6 L295.4,408.6 L295.1,410.6 L294.6,412.6 L294.1,414.6 L293.5,416.6 L292.8,418.6 L292,420.6 L291.1,422.6 L290.1,424.5 Z"/>
<path class="t" d="M287.3,423 L286.4,424.6 L285.5,426.2 L284.4,427.7 L283.4,429.1 L282.2,430.5 L281.1,431.8 L279.9,433.1 L278.6,434.2 L277.3,435.3 L276,436.3 L274.7,437.2 L273.4,438 L272,438.7 L270.7,439.3 L269.3,439.8 L268,440.2 L266.7,440.5 L265.4,440.6 L264.1,440.7 L262.9,440.6 L261.7,440.5 L260.5,440.2 L259.4,439.8 L258.3,439.3 L257.3,438.7 L256.4,438 L255.5,437.2 L254.7,436.3 L253.9,435.3 L253.2,434.2 L252.7,433 L252.1,431.8 L251.7,430.4 L251.4,429.1 L251.1,427.6 L250.9,426.1 L250.9,424.5 L250.9,422.9 L251,421.3 L251.2,419.6 L251.4,417.9 L251.8,416.2 L252.2,414.5 L252.7,412.8 L253.3,411.1 L254,409.4 L254.8,407.8 L255.6,406.1 L256.5,404.5 L257.5,403 L258.5,401.5 L259.5,400 L260.7,398.6 L261.8,397.3 L263.1,396.1 L264.3,394.9 L265.6,393.8 L266.9,392.8 L268.2,391.9 L269.5,391.1 L270.9,390.4 L272.2,389.8 L273.6,389.3 L274.9,388.9 L276.2,388.7 L277.5,388.5 L278.8,388.4 L280,388.5 L281.3,388.7 L282.4,389 L283.5,389.3 L284.6,389.8 L285.6,390.4 L286.6,391.2 L287.4,392 L288.3,392.9 L289,393.9 L289.7,395 L290.3,396.1 L290.8,397.4 L291.2,398.7 L291.5,400.1 L291.8,401.5 L292,403 L292,404.6 L292,406.2 L291.9,407.8 L291.8,409.5 L291.5,411.2 L291.1,412.9 L290.7,414.6 L290.2,416.3 L289.6,418 L288.9,419.7 L288.1,421.4 L287.3,423 Z"/>
<path class="t" d="M285.9,422.2 L285.1,423.7 L284.2,425.1 L283.3,426.5 L282.3,427.8 L281.3,429.1 L280.2,430.3 L279.1,431.4 L278,432.5 L276.8,433.5 L275.6,434.4 L274.4,435.2 L273.2,435.9 L272,436.6 L270.7,437.1 L269.5,437.6 L268.3,437.9 L267.1,438.2 L265.9,438.3 L264.8,438.4 L263.6,438.3 L262.5,438.1 L261.5,437.9 L260.5,437.5 L259.5,437.1 L258.6,436.5 L257.7,435.9 L256.9,435.2 L256.2,434.3 L255.5,433.4 L254.9,432.4 L254.3,431.4 L253.9,430.2 L253.5,429 L253.2,427.8 L252.9,426.4 L252.8,425.1 L252.7,423.6 L252.7,422.2 L252.8,420.7 L253,419.2 L253.2,417.6 L253.5,416.1 L253.9,414.5 L254.4,413 L255,411.4 L255.6,409.9 L256.3,408.4 L257,406.9 L257.8,405.4 L258.7,404 L259.6,402.6 L260.6,401.3 L261.6,400.1 L262.7,398.9 L263.8,397.7 L264.9,396.7 L266.1,395.7 L267.3,394.8 L268.5,394 L269.7,393.2 L270.9,392.6 L272.2,392 L273.4,391.6 L274.6,391.2 L275.8,391 L277,390.8 L278.1,390.8 L279.3,390.8 L280.4,391 L281.4,391.2 L282.5,391.6 L283.4,392.1 L284.3,392.6 L285.2,393.2 L286,394 L286.8,394.8 L287.4,395.7 L288,396.7 L288.6,397.8 L289,398.9 L289.4,400.1 L289.7,401.4 L290,402.7 L290.1,404.1 L290.2,405.5 L290.2,407 L290.1,408.4 L289.9,410 L289.7,411.5 L289.4,413 L289,414.6 L288.5,416.2 L287.9,417.7 L287.3,419.2 L286.6,420.8 L285.9,422.2 Z"/>
<path class="t" d="M246.4,362.2 L248.9,363.3 L251.9,365 L255.3,366.8 L258.8,368.7 L262.1,370.5 L265.5,372.3 L269.2,374.2 L272.8,376 L275.8,377.7 L277.8,378.9 L278.4,379.5 L278,379.8 L277.1,379.8 L276,379.8 L275.3,379.8 L274.9,379.9 L274.5,379.9 L274.2,380 L273.9,380 L273.6,380 L273.4,380.1 L273.1,380.2 L272.9,380.3 L272.6,380.3 L272.1,380.4 L271.6,380.5 L271.1,380.8 L270.5,381 L269.4,380.9 L267.8,380.3 L265.4,379.2 L262.4,377.7 L259.1,375.8 L255.7,373.9 L252.4,372.2 L249.1,370.4 L245.5,368.6 L242,366.8 L239,365.2 L237,364 L236.1,363.2 L236.1,362.7 L236.6,362.4 L237.3,362.3 L237.8,362.1 L238,361.9 L238.3,361.8 L238.5,361.8 L238.8,361.8 L239.1,361.7 L239.4,361.6 L239.5,361.5 L239.8,361.4 L240.1,361.4 L240.7,361.4 L241.4,361.4 L242.2,361.3 L243.2,361.3 L244.5,361.5 Z"/>
<path class="t" d="M234.9,367.4 L237.1,368.3 L239.6,369.7 L242.5,371.2 L245.3,372.9 L248.1,374.4 L251,375.9 L254,377.4 L257,378.9 L259.5,380.2 L261.3,381.4 L262.2,382.3 L262.4,382.9 L262.1,383.4 L261.6,384 L261,384.7 L260.2,385.5 L259.1,386.5 L257.8,387.5 L256.5,388.5 L255.4,389.6 L254.4,390.7 L253.5,392 L252.6,393.2 L251.7,394.3 L250.8,395.1 L250.1,395.7 L249.5,396.3 L248.9,396.6 L248,396.6 L246.6,396.3 L244.6,395.4 L242,394.1 L239.2,392.5 L236.4,390.9 L233.6,389.4 L230.8,387.9 L227.8,386.4 L225,385 L222.5,383.6 L220.6,382.5 L219.6,381.5 L219.2,380.8 L219.2,380.1 L219.4,379.4 L219.8,378.6 L220.3,377.6 L221.2,376.5 L222.1,375.3 L223.2,374.2 L224.3,373 L225.3,371.9 L226.4,370.8 L227.5,369.7 L228.6,368.7 L229.7,368 L230.6,367.5 L231.4,367.1 L232.3,366.9 L233.4,367 Z"/>
<path class="t" d="M233.9,370.2 L235.8,371 L238,372.2 L240.4,373.6 L242.9,375 L245.3,376.3 L247.8,377.6 L250.4,378.9 L253,380.2 L255.2,381.4 L256.8,382.4 L257.5,383.3 L257.7,384 L257.5,384.6 L257.1,385.2 L256.7,385.8 L256.3,386.4 L255.7,387 L255,387.5 L254.3,388.1 L253.7,388.7 L253.2,389.3 L252.7,390 L252.2,390.7 L251.6,391.3 L251,391.8 L250.3,392.2 L249.7,392.7 L248.9,393 L248,393.1 L246.6,392.9 L244.8,392.1 L242.6,391 L240.2,389.6 L237.7,388.2 L235.3,386.9 L232.9,385.6 L230.3,384.3 L227.7,383.1 L225.6,381.9 L224,380.8 L223.1,379.9 L222.8,379.1 L222.8,378.4 L223,377.7 L223.3,377.1 L223.6,376.4 L224.1,375.8 L224.7,375.1 L225.3,374.5 L225.9,373.9 L226.5,373.3 L227,372.6 L227.5,372 L228.2,371.4 L228.9,371 L229.7,370.6 L230.4,370.2 L231.3,369.9 L232.5,369.9 Z"/>
<path class="t" d="M217.6,384.8 L219.8,385.7 L222.5,387.2 L225.6,388.9 L228.8,390.7 L231.8,392.4 L234.9,393.9 L238.1,395.6 L241.3,397.2 L244,398.6 L246.1,399.9 L247.2,401 L247.5,401.9 L247.5,402.7 L247.3,403.3 L247.2,403.9 L247.1,404.4 L247,404.8 L246.8,405.1 L246.5,405.4 L246.3,405.7 L246.2,406.1 L246.2,406.5 L246.1,406.9 L245.9,407.2 L245.6,407.6 L245.2,408.1 L244.9,408.7 L244.3,409.2 L243.4,409.4 L242,409.1 L239.8,408.2 L237.1,406.7 L234,405 L230.8,403.2 L227.7,401.5 L224.7,400 L221.4,398.3 L218.3,396.7 L215.5,395.2 L213.5,393.9 L212.3,392.9 L211.9,391.9 L211.8,391.1 L212,390.4 L212.1,389.8 L212.1,389.3 L212.2,388.9 L212.4,388.6 L212.6,388.3 L212.8,387.9 L213,387.6 L213,387.2 L213.1,386.8 L213.3,386.5 L213.7,386.1 L214.1,385.7 L214.5,385.1 L215.1,384.7 L216.1,384.5 Z"/>
<path class="t" d="M213.7,398 L215.7,398.8 L218.2,400.2 L221,401.7 L223.9,403.4 L226.7,404.9 L229.5,406.4 L232.4,407.8 L235.3,409.3 L237.8,410.6 L239.7,411.9 L240.8,412.9 L241.4,413.8 L241.5,414.7 L241.5,415.5 L241.6,416.2 L241.6,416.9 L241.5,417.6 L241.4,418.2 L241.2,418.7 L241.1,419.4 L241,420 L241,420.7 L241.1,421.4 L241,422 L240.8,422.6 L240.6,423.3 L240.5,424 L240.2,424.6 L239.5,424.9 L238.3,424.7 L236.3,423.9 L233.8,422.5 L230.9,420.9 L227.9,419.2 L225.1,417.7 L222.3,416.2 L219.3,414.8 L216.4,413.3 L213.9,411.9 L211.9,410.7 L210.7,409.6 L210,408.5 L209.7,407.6 L209.6,406.8 L209.5,406 L209.4,405.2 L209.4,404.6 L209.5,404 L209.7,403.4 L209.8,402.8 L209.9,402.1 L209.9,401.4 L210,400.8 L210.1,400.2 L210.4,399.7 L210.7,399.1 L211.1,398.5 L211.5,398 L212.4,397.8 Z"/>
<path class="t" d="M214.2,401.1 L215.9,401.9 L218.3,403.1 L220.9,404.5 L223.6,406 L226.1,407.4 L228.6,408.7 L231.4,410.1 L234,411.4 L236.3,412.7 L238,413.8 L239,414.7 L239.4,415.5 L239.5,416.1 L239.5,416.7 L239.5,417.2 L239.6,417.6 L239.6,417.9 L239.5,418.1 L239.4,418.3 L239.4,418.5 L239.4,418.7 L239.4,418.9 L239.4,419.2 L239.4,419.4 L239.2,419.7 L239.1,420.1 L239,420.7 L238.8,421.2 L238.2,421.4 L237.1,421.2 L235.3,420.5 L233,419.2 L230.4,417.8 L227.7,416.2 L225.1,414.8 L222.5,413.5 L219.8,412.2 L217.2,410.8 L214.9,409.6 L213.1,408.5 L212.1,407.5 L211.6,406.7 L211.4,406 L211.4,405.4 L211.4,404.9 L211.3,404.5 L211.3,404.2 L211.4,404 L211.5,403.9 L211.5,403.7 L211.5,403.4 L211.5,403.2 L211.5,402.9 L211.5,402.7 L211.7,402.4 L211.9,402.1 L212.1,401.5 L212.4,401.1 L213,400.9 Z"/>
<path class="t" d="M210.1,413.1 L212.2,414.1 L215.2,415.6 L218.6,417.5 L222.1,419.4 L225.4,421.2 L228.7,422.9 L232.2,424.7 L235.6,426.5 L238.6,428.1 L240.8,429.4 L242.1,430.4 L242.7,431.2 L242.9,431.9 L243,432.4 L243.1,432.9 L243.3,433.3 L243.4,433.6 L243.4,433.8 L243.4,434 L243.5,434.2 L243.6,434.5 L243.7,434.8 L243.9,435 L244,435.3 L244,435.7 L244.3,436.2 L244.8,437 L245.1,437.7 L245,438.1 L244,437.9 L241.8,436.9 L238.8,435.3 L235.3,433.4 L231.7,431.4 L228.3,429.6 L225,427.9 L221.5,426.1 L218.1,424.3 L215,422.7 L212.7,421.3 L211.2,420.2 L210.4,419.3 L210,418.5 L209.8,417.9 L209.6,417.3 L209.3,416.9 L209.2,416.6 L209.2,416.4 L209.2,416.2 L209.1,416 L209,415.7 L208.9,415.5 L208.8,415.2 L208.7,414.9 L208.8,414.7 L208.7,414.2 L208.5,413.6 L208.5,413 L208.9,412.8 Z"/>
<path class="t" d="M215.7,385.3 L246.7,401.7"/>
<path class="t" d="M215.2,386.4 L246.1,402.9"/>
<path class="t" d="M214.6,387.5 L245.6,404"/>
<path class="t" d="M214.1,388.6 L245.1,405.1"/>
<path class="t" d="M213.6,389.8 L244.6,406.3"/>
<path class="t" d="M213.1,391 L244.1,407.4"/>
<path class="t" d="M212.6,392.1 L243.7,408.6"/>
<path class="o" d="M168,381 C162,390 165,404 172,409 C178,414 188,415 194,411 L194,390 Z"/>
<path class="o" d="M187,383 L226,383 C228,383 229,385 228,388 L222,420 L200,426 L186,402 Z"/>
<ellipse class="o" cx="203.3" cy="405.8" rx="22.5" ry="17" transform="rotate(75 203.3 405.8)"/>
<ellipse class="t" cx="203.5" cy="405.8" rx="19.5" ry="14.5" transform="rotate(75 203.5 405.8)"/>
<ellipse class="t" cx="203.8" cy="406" rx="16.5" ry="12" transform="rotate(75 203.8 406)"/>
<path class="t" d="M177,362 L183,366 L185,364 L192,374 L188,381 L182,374 Z"/>
<g transform="translate(242.7,342.5) rotate(-29)">
<path class="o" d="M-14,-33 L0,-33 A31,33 0 0 1 0,33 L-14,33 A31,33 0 0 1 -14,-33 Z"/><ellipse class="o" cx="0" cy="0" rx="31" ry="33"/>
<ellipse class="t" cx="0" cy="0" rx="29.1" ry="31"/>
<ellipse class="t" cx="-0.5" cy="0.5" rx="25.4" ry="27"/>
<ellipse class="t" cx="-1" cy="1" rx="24" ry="25.5"/>
<ellipse class="t" cx="-1.5" cy="1.5" rx="21.1" ry="22.5"/>
</g>
<text class="bt" transform="translate(200.8,347) rotate(60)">DN20</text>
<text class="bt" transform="translate(193.8,351) rotate(62)">PN16</text>
<text class="bt" transform="translate(187,363.7) rotate(60)">DG1</text>
<path class="o" d="M313,312 L334,301.5 L356,315 L359,320 L358.5,343 L349,350 L330,352 Z"/>
<path class="t" d="M334,301.5 L352,318 L350.5,349 M352,318 L359,320"/>
<ellipse class="o" cx="328.5" cy="331.5" rx="24" ry="16.5" transform="rotate(65 328.5 331.5)"/>
<ellipse class="t" cx="327" cy="332.5" rx="21.5" ry="15" transform="rotate(65 327 332.5)"/>
<g transform="translate(314.5,339.5) rotate(153)">
<path class="o" d="M-14,-16.5 L-5,-16.5 A10.2,16.5 0 0 1 -5,16.5 L-14,16.5 A10.2,16.5 0 0 1 -14,-16.5 Z"/>
<ellipse class="t" cx="-9" cy="0" rx="10.2" ry="16.5"/>
<ellipse class="t" cx="-6.5" cy="0" rx="9.9" ry="16"/>
<path class="o" d="M-5,-15.5 L0,-15.5 A9.6,15.5 0 0 1 0,15.5 L-5,15.5 A9.6,15.5 0 0 1 -5,-15.5 Z"/><ellipse class="o" cx="0" cy="0" rx="9.6" ry="15.5"/>
<ellipse class="t" cx="0.3" cy="0" rx="8.4" ry="13.5"/>
</g>
<path class="o" d="M169,476 L169,490 L191,502 L195,502 L218.5,490 L218.5,476 Z"/>
<path class="t" d="M191,489 L191,502 M195,489 L195,502"/>
<g transform="translate(194,480) rotate(-90)">
<path class="o" d="M0,-25.3 L10,-25.3 A10.1,25.3 0 0 1 10,25.3 L0,25.3 A10.1,25.3 0 0 1 0,-25.3 Z"/><ellipse class="o" cx="10" cy="0" rx="10.1" ry="25.3"/>
<ellipse class="t" cx="10" cy="0" rx="9.2" ry="23"/>
<path class="o" d="M9,-19.5 L14,-19.5 A9.2,19.5 0 0 1 14,19.5 L9,19.5 A9.2,19.5 0 0 1 9,-19.5 Z"/><ellipse class="o" cx="14" cy="0" rx="9.2" ry="19.5"/>
<path class="o" d="M14,-17.3 L27,-17.3 A9,17.3 0 0 1 27,17.3 L14,17.3 A9,17.3 0 0 1 14,-17.3 Z"/><ellipse class="o" cx="27" cy="0" rx="9" ry="17.3"/>
<ellipse class="t" cx="27" cy="0" rx="7.8" ry="15"/>
</g>
<path class="o2" d="M176.8,466 A17.3,9 0 0 0 211.3,466"/>
<text class="lbl" transform="translate(213.35,109) scale(0.93,1)">2</text>
<text class="lbl" transform="translate(213.75,184) scale(0.93,1)">6</text>
<text class="lbl" transform="translate(213.75,258) scale(0.93,1)">5</text>
<text class="lbl" transform="translate(389.65,425.2) scale(0.93,1)">3</text>
<text class="lbl" transform="translate(179.35,560) scale(0.93,1)">4</text>
<text class="lbl" transform="translate(277.65,560) scale(0.93,1)">3</text>
<path fill="#000" d="M214.1,33.9 L214.1,14.6 C212.5,16.2 210.3,17.6 208.2,18.4 L208.2,15.3 C211,13.9 213.3,11.6 214.6,9.4 L216.9,9.4 L216.9,33.9 Z"/>
<path class="ld" d="M225 24 L351.5 52.5"/>
<path class="ld" d="M225 98.8 L615.5 91.3"/>
<path class="ld" d="M225 173.5 L410 218"/>
<path class="ld" d="M225 248.5 L359.5 250"/>
<path class="ld" d="M313 344 L379 396.5"/>
<path class="ld" d="M185 491 L265 531.5"/>
<path class="ld" d="M93 482 L169 533"/>
</svg>
</body></html>
